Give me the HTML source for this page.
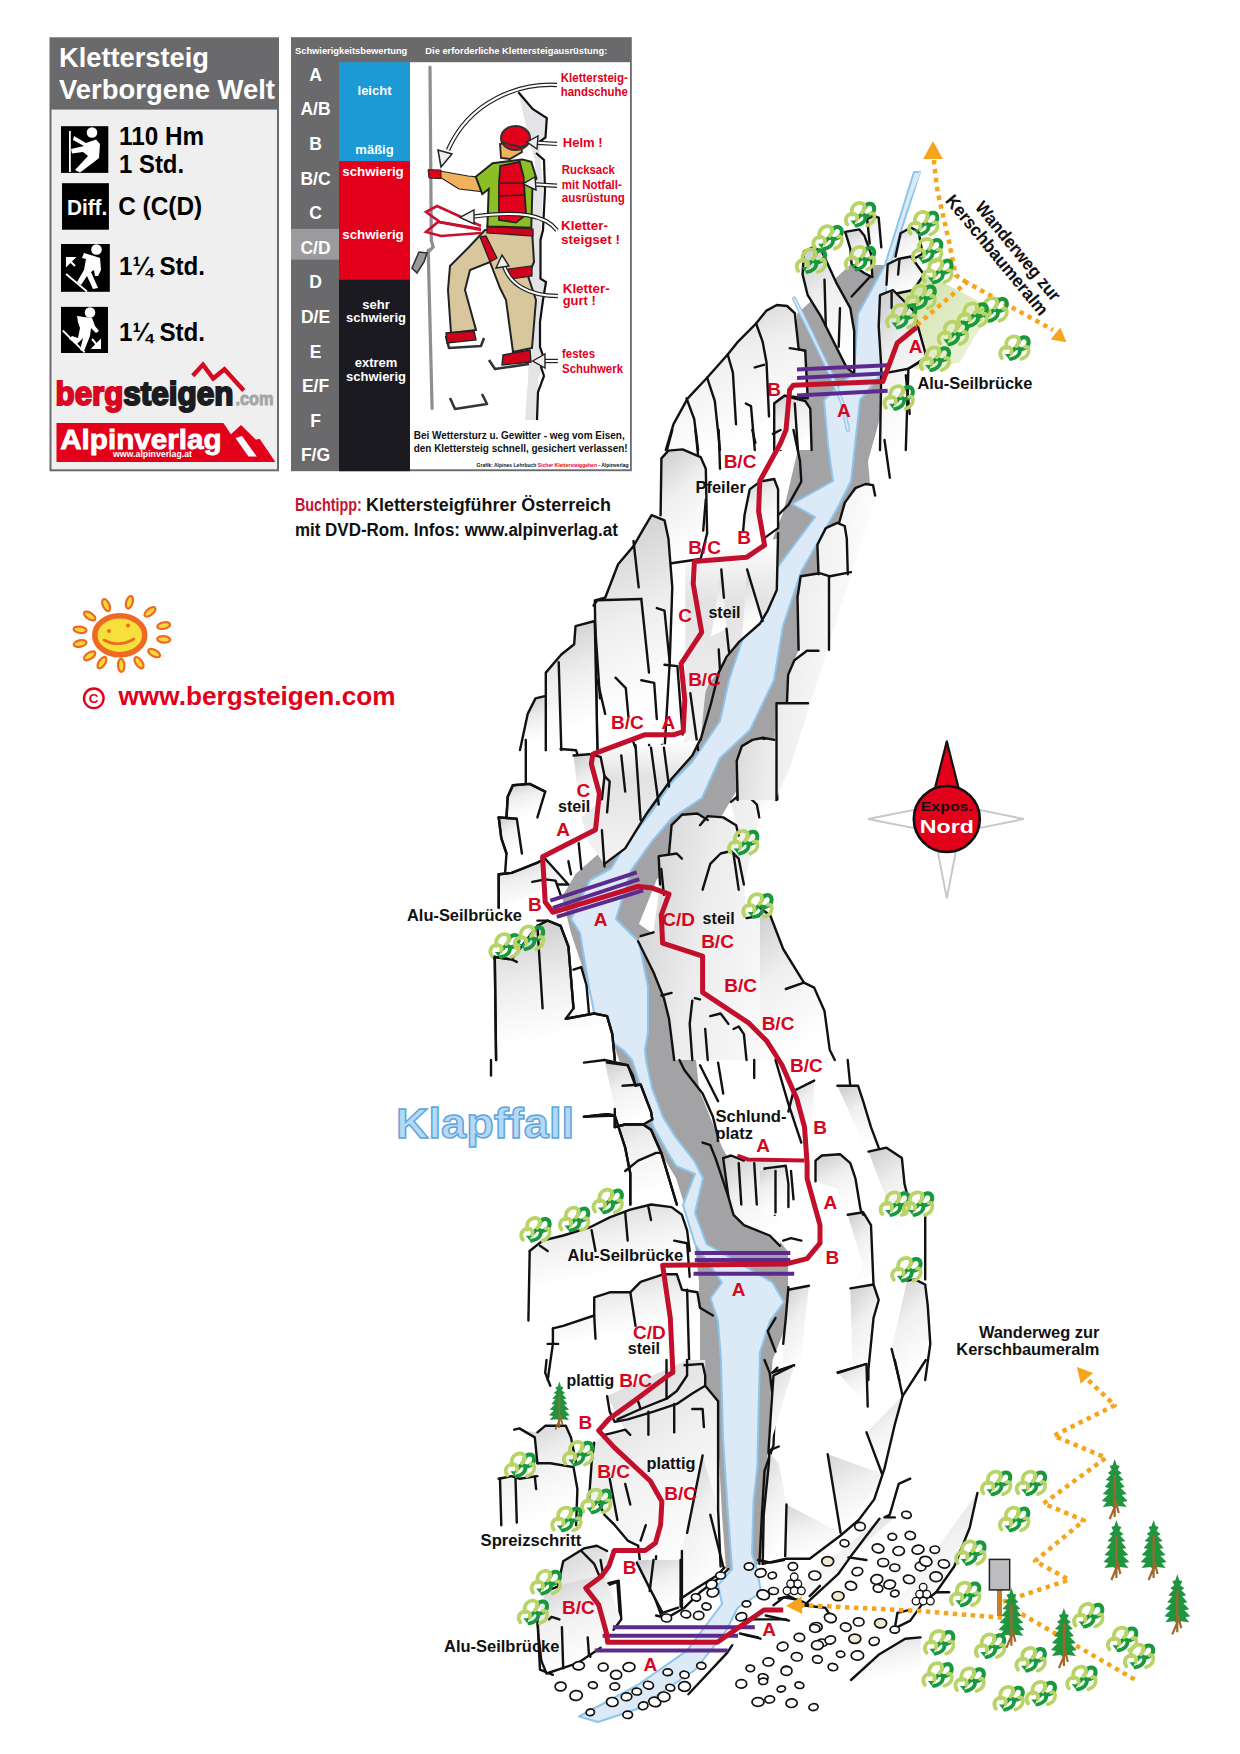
<!DOCTYPE html>
<html><head><meta charset="utf-8">
<style>
html,body{margin:0;padding:0;background:#fff;width:1240px;height:1754px;overflow:hidden}
svg{position:absolute;left:0;top:0;display:block}
text{font-family:"Liberation Sans",sans-serif;font-weight:bold}
</style></head>
<body>
<svg width="1240" height="1754" viewBox="0 0 1240 1754">
<defs>
<linearGradient id="rk" x1="0" y1="0" x2="0.35" y2="1"><stop offset="0" stop-color="#cbcbcd"/><stop offset="0.45" stop-color="#efeff0"/><stop offset="1" stop-color="#fff"/></linearGradient>
<linearGradient id="rk2" x1="0" y1="0" x2="0" y2="1"><stop offset="0" stop-color="#d0d0d2"/><stop offset="1" stop-color="#fff"/></linearGradient>
<linearGradient id="rkl" x1="0" y1="0" x2="0.35" y2="1"><stop offset="0" stop-color="#d6d6d8"/><stop offset="0.5" stop-color="#f1f1f2"/><stop offset="1" stop-color="#fff"/></linearGradient>
<linearGradient id="gfan" x1="0" y1="0" x2="1" y2="1"><stop offset="0" stop-color="#c9dd9c"/><stop offset="1" stop-color="#f1f6e4"/></linearGradient>
<g id="bush" fill="none" stroke-linecap="round">
<path d="M20,9 C21,3 28,3 29.5,7 C31,12 27,16 21,16.5" stroke="#17993c" stroke-width="4"/>
<path d="M14,18 C16,14 21,14 21,18 C21,22 17,25 12,26" stroke="#17993c" stroke-width="3.8"/>
<path d="M7.5,15 C6,6 12,2.5 17,3.5 C21.5,4.5 21,10 17.5,13" stroke="#b8d366" stroke-width="3.8"/>
<path d="M3,25 C-0.5,20 2,14.5 8,14 C12,14 14,17 12,21" stroke="#b8d366" stroke-width="3.8"/>
<path d="M22.5,26 C27,24.5 30,21 30,17 C30,14 28,13 26,14" stroke="#b8d366" stroke-width="3.6"/>
<path d="M6,21 L10,26 L11.5,21 Z" fill="#17993c" stroke="none"/></g>
<g id="pine"><path d="M0,-28 L2,-22 L5,-21 L3,-17 L7,-14 L4,-12 L9,-7 L5,-6 L10,0 L6,1 L12,7 L7,8 L13,14 L8,15 L12,20 L3,19 L0,22 L-3,19 L-12,20 L-8,15 L-13,14 L-7,8 L-12,7 L-6,1 L-10,0 L-5,-6 L-9,-7 L-4,-12 L-7,-14 L-3,-17 L-5,-21 L-2,-22Z" fill="#1f9540"/>
<path d="M0,-12 L0,30 M0,20 L-5,32 M1,14 L4,26" stroke="#a2662b" stroke-width="2.2" fill="none"/></g>
<linearGradient id="rkh" x1="0" y1="0" x2="1" y2="0.3"><stop offset="0" stop-color="#cacacc"/><stop offset="0.45" stop-color="#ececed"/><stop offset="1" stop-color="#fff"/></linearGradient>
<linearGradient id="rkv" x1="0" y1="0" x2="0" y2="1"><stop offset="0" stop-color="#fff"/><stop offset="0.3" stop-color="#e2e2e4"/><stop offset="1" stop-color="#f4f4f5"/></linearGradient>
<linearGradient id="rkd" x1="0" y1="0" x2="0.15" y2="1"><stop offset="0" stop-color="#cbcbcd"/><stop offset="0.5" stop-color="#efeff0"/><stop offset="0.9" stop-color="#fff"/></linearGradient>
<linearGradient id="rkt" x1="0" y1="0" x2="0.25" y2="1"><stop offset="0" stop-color="#cfcfd1"/><stop offset="0.35" stop-color="#f0f0f1"/><stop offset="0.65" stop-color="#fff"/></linearGradient>
</defs>
<g id="map">
<polygon points="797.0,314.0 798.0,372.0 797.0,400.0 799.0,445.0 783.0,513.0 756.0,581.0 729.0,635.0 706.5,689.0 684.0,743.0 652.0,788.0 621.0,834.0 575.5,874.0 562.0,897.0 571.0,933.0 589.0,987.0 602.6,1032.0 615.6,1050.0 629.0,1089.0 652.0,1139.0 676.0,1178.0 687.0,1213.0 695.0,1244.0 699.0,1282.0 699.0,1341.0 699.0,1375.0 710.5,1391.0 718.0,1437.5 722.0,1515.0 726.0,1569.0 745.0,1575.0 761.0,1561.5 764.8,1515.0 768.6,1437.5 772.5,1360.0 788.0,1321.0 788.0,1282.5 788.0,1251.5 772.5,1232.0 757.0,1217.0 745.0,1189.5 722.0,1147.0 699.0,1089.0 695.0,1050.0 688.0,1032.0 670.0,983.0 652.0,933.0 639.0,924.0 657.0,879.0 675.0,865.0 711.0,834.0 737.0,790.0 737.0,757.0 776.5,740.0 776.5,703.0 787.0,702.0 788.0,675.0 798.6,650.0 797.5,597.0 818.0,574.0 817.0,545.0 839.0,522.0 850.0,505.0 870.0,484.0 868.0,461.0 885.0,400.0 885.0,265.0 850.0,265.0" fill="#a3a3a5"/>
<polygon points="914.0,172.0 885.0,265.0 858.0,314.0 854.0,372.0 824.0,400.0 828.0,445.0 833.0,481.0 792.0,504.0 815.0,517.0 774.0,572.0 747.0,626.0 729.0,680.0 720.0,721.0 692.0,762.0 672.0,782.0 651.5,812.0 627.0,842.0 611.0,868.5 590.0,880.0 571.0,919.0 580.0,933.0 589.0,987.0 598.0,1032.0 623.0,1050.0 632.0,1060.0 642.0,1091.0 653.5,1127.0 668.0,1153.0 676.0,1166.0 695.0,1174.0 683.0,1205.0 695.0,1244.0 722.0,1282.5 710.5,1298.0 718.0,1321.0 721.0,1360.0 723.0,1438.0 727.0,1500.0 732.0,1569.0 718.0,1585.0 722.0,1604.0 687.0,1650.6 637.0,1685.5 579.0,1716.5 598.0,1722.0 637.0,1709.0 695.0,1670.0 726.0,1631.0 737.6,1608.0 761.0,1592.5 757.0,1569.0 752.0,1554.0 753.6,1500.0 757.4,1467.0 758.4,1419.0 760.0,1352.0 770.0,1321.0 784.0,1302.0 772.5,1282.5 706.6,1244.0 695.0,1213.0 703.0,1178.0 695.0,1162.0 675.5,1137.0 663.0,1117.0 652.0,1088.0 646.0,1060.0 645.0,1050.0 648.0,1032.0 648.0,987.0 639.0,942.0 616.0,919.0 631.0,870.5 651.5,842.0 672.0,818.0 702.0,798.0 720.0,758.0 750.0,730.0 774.0,680.0 783.0,626.0 801.0,572.0 837.5,508.0 851.0,481.0 860.0,400.0 883.0,372.0 885.0,299.0 890.0,265.0 920.0,172.0" fill="#dce9f6" stroke="#8ec5ea" stroke-width="2" stroke-linejoin="round"/>
<polygon points="887,270 903,262 992,308 960,362 930,370 887,366" fill="url(#gfan)"/>
<polyline points="794.2,298.7 812,335 831.6,376 842,402 848,430" fill="none" stroke="#9ccbee" stroke-width="4.5" stroke-linecap="round"/>
<polyline points="794.2,298.7 812,335 831.6,376 842,402 848,430" fill="none" stroke="#dce9f6" stroke-width="1.6" stroke-linecap="round"/>
<polyline points="920,172 903,215 890,262" fill="none" stroke="#dce9f6" stroke-width="1.5"/>
<polygon points="665.8,450.0 673.5,424.2 687.7,398.4 707.1,377.7 727.7,354.5 738.1,341.6 756.1,323.5 766.5,310.6 776.8,305.0 787.1,306.0 794.8,313.2 798.7,349.4 805.2,350.6 807.7,398.4 784.5,395.8 774.2,403.5 780.6,450.0" fill="url(#rk)"/>
<polyline points="665.8,450.0 673.5,424.2 687.7,398.4 707.1,377.7 727.7,354.5 738.1,341.6 756.1,323.5 766.5,310.6 776.8,305.0 787.1,306.0 794.8,313.2 798.7,349.4 805.2,350.6 807.7,398.4 784.5,395.8 774.2,403.5 780.6,450.0" fill="none" stroke="#111" stroke-width="2.4" stroke-linejoin="round" stroke-linecap="round"/>
<polyline points="686.5,398.4 694.2,419.0 698.1,450.0" fill="none" stroke="#111" stroke-width="2.4" stroke-linejoin="round" stroke-linecap="round"/>
<polyline points="707.1,377.7 714.8,401.0 720.0,450.0" fill="none" stroke="#111" stroke-width="2.4" stroke-linejoin="round" stroke-linecap="round"/>
<polyline points="727.7,354.5 732.9,372.6 736.0,424.2" fill="none" stroke="#111" stroke-width="2.4" stroke-linejoin="round" stroke-linecap="round"/>
<polyline points="756.1,323.5 762.6,341.6 766.5,362.3 769.0,416.5" fill="none" stroke="#111" stroke-width="2.4" stroke-linejoin="round" stroke-linecap="round"/>
<polyline points="754.8,367.4 763.9,364.8" fill="none" stroke="#111" stroke-width="2.4" stroke-linejoin="round" stroke-linecap="round"/>
<polyline points="745.8,403.5 751.0,406.1 754.8,450.0" fill="none" stroke="#111" stroke-width="2.4" stroke-linejoin="round" stroke-linecap="round"/>
<polyline points="789.7,348.1 805.2,350.6" fill="none" stroke="#111" stroke-width="2.4" stroke-linejoin="round" stroke-linecap="round"/>
<polygon points="854.2,373.9 846.5,367.4 836.1,346.8 820.6,315.8 807.7,295.2 802.6,274.5 803.9,251.3 812.9,247.4 821.9,251.3 836.1,282.3 850.3,308.1 854.2,331.3 854.2,373.9" fill="url(#rk)"/>
<polyline points="854.2,373.9 846.5,367.4 836.1,346.8 820.6,315.8 807.7,295.2 802.6,274.5 803.9,251.3 812.9,247.4 821.9,251.3 836.1,282.3 850.3,308.1 854.2,331.3 854.2,373.9" fill="none" stroke="#111" stroke-width="2.4" stroke-linejoin="round" stroke-linecap="round"/>
<polyline points="824.5,279.7 825.8,326.1" fill="none" stroke="#111" stroke-width="2.4" stroke-linejoin="round" stroke-linecap="round"/>
<polyline points="840.0,308.1 838.7,346.8" fill="none" stroke="#111" stroke-width="2.4" stroke-linejoin="round" stroke-linecap="round"/>
<polygon points="864.5,273.2 851.6,264.2 850.3,248.7 845.2,231.9 859.4,229.4 864.5,235.8 871.0,253.9 872.3,277.1 864.5,273.2" fill="url(#rk)"/>
<polyline points="864.5,273.2 851.6,264.2 850.3,248.7 845.2,231.9 859.4,229.4 864.5,235.8 871.0,253.9 872.3,277.1 864.5,273.2" fill="none" stroke="#111" stroke-width="2.4" stroke-linejoin="round" stroke-linecap="round"/>
<polyline points="851.6,296.5 869.7,277.1" fill="none" stroke="#111" stroke-width="2.4" stroke-linejoin="round" stroke-linecap="round"/>
<polygon points="881.3,247.4 878.7,217.7 873.5,215.9 867.1,219.0 869.7,243.5" fill="url(#rk)"/>
<polyline points="881.3,247.4 878.7,217.7 873.5,215.9 867.1,219.0 869.7,243.5" fill="none" stroke="#111" stroke-width="2.4" stroke-linejoin="round" stroke-linecap="round"/>
<polygon points="895.5,256.5 900.6,233.2 911.0,227.5 918.7,231.9 922.6,253.9 913.5,259.0" fill="url(#rk)"/>
<polyline points="895.5,256.5 900.6,233.2 911.0,227.5 918.7,231.9 922.6,253.9 913.5,259.0" fill="none" stroke="#111" stroke-width="2.4" stroke-linejoin="round" stroke-linecap="round"/>
<polygon points="886.5,284.8 887.7,264.2 898.1,259.0 911.0,256.5 923.9,274.5 913.5,290.0 887.7,295.2" fill="url(#rk)"/>
<polyline points="886.5,284.8 887.7,264.2 898.1,259.0 911.0,256.5 923.9,274.5 913.5,290.0 887.7,295.2" fill="none" stroke="#111" stroke-width="2.4" stroke-linejoin="round" stroke-linecap="round"/>
<polyline points="899.4,260.3 898.1,274.5" fill="none" stroke="#111" stroke-width="2.4" stroke-linejoin="round" stroke-linecap="round"/>
<polygon points="880.0,450.0 881.3,367.4 878.7,326.1 880.0,295.2 892.9,290.0 913.5,310.6 926.5,357.1 908.4,368.7 905.8,450.0" fill="url(#rk)"/>
<polyline points="880.0,450.0 881.3,367.4 878.7,326.1 880.0,295.2 892.9,290.0 913.5,310.6 926.5,357.1 908.4,368.7 905.8,450.0" fill="none" stroke="#111" stroke-width="2.4" stroke-linejoin="round" stroke-linecap="round"/>
<polyline points="891.6,292.6 891.6,308.1" fill="none" stroke="#111" stroke-width="2.4" stroke-linejoin="round" stroke-linecap="round"/>
<polyline points="887.7,372.6 908.4,368.7 923.9,359.7" fill="none" stroke="#111" stroke-width="2.4" stroke-linejoin="round" stroke-linecap="round"/>
<polyline points="905.8,375.2 909.7,413.9" fill="none" stroke="#111" stroke-width="2.4" stroke-linejoin="round" stroke-linecap="round"/>
<polygon points="774.2,450.0 774.2,403.5 784.5,395.8 805.2,401.0 810.3,408.7 811.6,450.0" fill="url(#rk)"/>
<polyline points="774.2,450.0 774.2,403.5 784.5,395.8 805.2,401.0 810.3,408.7 811.6,450.0" fill="none" stroke="#111" stroke-width="2.4" stroke-linejoin="round" stroke-linecap="round"/>
<polyline points="794.8,403.5 797.9,450.0" fill="none" stroke="#111" stroke-width="2.4" stroke-linejoin="round" stroke-linecap="round"/>
<polygon points="705.8,553.9 778.1,538.4 776.8,590.0 762.6,621.0 739.4,641.6 721.3,667.4 705.8,688.1 700.6,739.7 685.2,750.0 685.2,564.2" fill="url(#rkv)"/>
<polygon points="747.1,569.4 762.6,621.0 741.9,639.0" fill="url(#rkd)"/>
<polygon points="721.3,569.4 726.5,628.7 711.0,636.5" fill="url(#rkd)"/>
<polygon points="660.6,515.2 661.4,458.4 668.4,450.6 682.6,449.4 700.6,457.1 705.8,468.7 707.1,533.2 700.6,559.0 664.5,564.2" fill="url(#rk)"/>
<polyline points="660.6,515.2 661.4,458.4 668.4,450.6 682.6,449.4 700.6,457.1 705.8,468.7 707.1,533.2 700.6,559.0 664.5,564.2" fill="none" stroke="#111" stroke-width="2.4" stroke-linejoin="round" stroke-linecap="round"/>
<polygon points="743.2,530.6 744.5,515.2 749.7,489.4 760.0,481.6 774.2,479.0 778.1,489.4 778.1,528.1 763.9,538.4" fill="url(#rk)"/>
<polyline points="743.2,530.6 744.5,515.2 749.7,489.4 760.0,481.6 774.2,479.0 778.1,489.4 778.1,528.1 763.9,538.4" fill="none" stroke="#111" stroke-width="2.4" stroke-linejoin="round" stroke-linecap="round"/>
<polygon points="597.4,750.0 594.8,600.3 605.2,597.7 618.1,564.2 633.5,546.1 643.9,528.1 651.6,515.2 664.5,520.3 668.4,538.4 672.3,587.4 669.7,662.3 664.5,750.0" fill="url(#rkd)"/>
<polyline points="597.4,750.0 594.8,600.3 605.2,597.7 618.1,564.2 633.5,546.1 643.9,528.1 651.6,515.2 664.5,520.3 668.4,538.4 672.3,587.4 669.7,662.3 664.5,750.0" fill="none" stroke="#111" stroke-width="2.4" stroke-linejoin="round" stroke-linecap="round"/>
<polygon points="545.8,750.0 545.8,672.6 561.3,654.5 574.2,644.2 575.5,626.1 594.8,621.0 597.4,750.0" fill="url(#rkd)"/>
<polyline points="545.8,750.0 545.8,672.6 561.3,654.5 574.2,644.2 575.5,626.1 594.8,621.0 597.4,750.0" fill="none" stroke="#111" stroke-width="2.4" stroke-linejoin="round" stroke-linecap="round"/>
<polygon points="520.0,750.0 527.7,713.9 535.5,698.4 545.8,695.8 545.8,750.0" fill="url(#rkd)"/>
<polyline points="520.0,750.0 527.7,713.9 535.5,698.4 545.8,695.8 545.8,750.0" fill="none" stroke="#111" stroke-width="2.4" stroke-linejoin="round" stroke-linecap="round"/>
<polyline points="667.1,449.4 672.3,430.0" fill="none" stroke="#111" stroke-width="2.4" stroke-linejoin="round" stroke-linecap="round"/>
<polyline points="695.5,430.0 698.1,455.8" fill="none" stroke="#111" stroke-width="2.4" stroke-linejoin="round" stroke-linecap="round"/>
<polyline points="718.7,430.0 720.0,468.7" fill="none" stroke="#111" stroke-width="2.4" stroke-linejoin="round" stroke-linecap="round"/>
<polyline points="752.3,430.0 755.4,442.9" fill="none" stroke="#111" stroke-width="2.4" stroke-linejoin="round" stroke-linecap="round"/>
<polyline points="772.9,433.9 780.6,430.0" fill="none" stroke="#111" stroke-width="2.4" stroke-linejoin="round" stroke-linecap="round"/>
<polyline points="705.8,499.7 703.2,530.6" fill="none" stroke="#111" stroke-width="2.4" stroke-linejoin="round" stroke-linecap="round"/>
<polyline points="633.5,541.0 638.7,587.4" fill="none" stroke="#111" stroke-width="2.4" stroke-linejoin="round" stroke-linecap="round"/>
<polyline points="593.5,605.5 597.4,600.3 641.3,599.0" fill="none" stroke="#111" stroke-width="2.4" stroke-linejoin="round" stroke-linecap="round"/>
<polyline points="641.3,599.0 643.9,623.5 649.0,672.6" fill="none" stroke="#111" stroke-width="2.4" stroke-linejoin="round" stroke-linecap="round"/>
<polyline points="656.8,608.1 664.5,610.6 669.7,662.3" fill="none" stroke="#111" stroke-width="2.4" stroke-linejoin="round" stroke-linecap="round"/>
<polyline points="664.5,664.8 677.4,666.1 682.6,734.5" fill="none" stroke="#111" stroke-width="2.4" stroke-linejoin="round" stroke-linecap="round"/>
<polyline points="597.4,680.3 605.2,713.9" fill="none" stroke="#111" stroke-width="2.4" stroke-linejoin="round" stroke-linecap="round"/>
<polyline points="615.5,677.7 625.8,688.1 628.4,716.5" fill="none" stroke="#111" stroke-width="2.4" stroke-linejoin="round" stroke-linecap="round"/>
<polyline points="641.3,680.3 654.2,682.9 656.8,719.0" fill="none" stroke="#111" stroke-width="2.4" stroke-linejoin="round" stroke-linecap="round"/>
<polyline points="558.7,662.3 561.3,750.0" fill="none" stroke="#111" stroke-width="2.4" stroke-linejoin="round" stroke-linecap="round"/>
<polyline points="594.8,621.0 600.0,698.4" fill="none" stroke="#111" stroke-width="2.4" stroke-linejoin="round" stroke-linecap="round"/>
<polyline points="721.3,569.4 723.9,597.7" fill="none" stroke="#111" stroke-width="2.4" stroke-linejoin="round" stroke-linecap="round"/>
<polyline points="747.1,569.4 762.6,621.0" fill="none" stroke="#111" stroke-width="2.4" stroke-linejoin="round" stroke-linecap="round"/>
<polyline points="726.5,628.7 729.0,651.9" fill="none" stroke="#111" stroke-width="2.4" stroke-linejoin="round" stroke-linecap="round"/>
<polyline points="718.7,649.4 720.0,670.0" fill="none" stroke="#111" stroke-width="2.4" stroke-linejoin="round" stroke-linecap="round"/>
<polyline points="690.3,693.2 698.1,750.0" fill="none" stroke="#111" stroke-width="2.4" stroke-linejoin="round" stroke-linecap="round"/>
<polyline points="793.5,430.0 800.0,461.0 801.3,481.6 788.4,504.8 778.1,515.2" fill="none" stroke="#111" stroke-width="2.4" stroke-linejoin="round" stroke-linecap="round"/>
<polyline points="778.1,533.2 776.8,590.0 767.7,610.6 760.0,623.5 739.4,641.6 726.5,657.1 718.7,672.6 711.0,703.5 700.6,739.7" fill="none" stroke="#111" stroke-width="2.4" stroke-linejoin="round" stroke-linecap="round"/>
<polyline points="633.5,742.3 636.1,750.0" fill="none" stroke="#111" stroke-width="2.4" stroke-linejoin="round" stroke-linecap="round"/>
<polyline points="649.0,744.8 650.3,750.0" fill="none" stroke="#111" stroke-width="2.4" stroke-linejoin="round" stroke-linecap="round"/>
<polyline points="661.9,744.8 663.2,750.0" fill="none" stroke="#111" stroke-width="2.4" stroke-linejoin="round" stroke-linecap="round"/>
<polygon points="573.5,755.5 700.0,740.0 692.3,755.5 671.6,778.7 645.8,814.8 625.2,848.4 604.5,863.9 589.0,843.2 581.3,817.4" fill="url(#rkv)"/>
<polygon points="498.7,907.7 498.7,874.2 511.6,872.9 537.4,862.6 545.2,858.7 568.4,884.5 558.1,884.5" fill="url(#rk)"/>
<polyline points="498.7,907.7 498.7,874.2 511.6,872.9 537.4,862.6 545.2,858.7 568.4,884.5 558.1,884.5" fill="none" stroke="#111" stroke-width="2.4" stroke-linejoin="round" stroke-linecap="round"/>
<polygon points="506.5,853.5 501.3,838.1 498.7,817.4 516.8,818.7 521.9,853.5" fill="url(#rk)"/>
<polyline points="506.5,853.5 501.3,838.1 498.7,817.4 516.8,818.7 521.9,853.5" fill="none" stroke="#111" stroke-width="2.4" stroke-linejoin="round" stroke-linecap="round"/>
<polygon points="506.5,817.4 507.7,796.8 512.9,785.2 529.7,783.9 545.2,791.6 537.4,817.4" fill="url(#rk)"/>
<polyline points="506.5,817.4 507.7,796.8 512.9,785.2 529.7,783.9 545.2,791.6 537.4,817.4" fill="none" stroke="#111" stroke-width="2.4" stroke-linejoin="round" stroke-linecap="round"/>
<polygon points="573.5,755.5 589.0,754.2 600.6,756.8 604.5,776.1 601.9,799.4 581.3,817.4" fill="url(#rk)"/>
<polygon points="496.1,1060.0 494.8,959.4 493.5,956.8 511.6,959.4 537.4,925.8 547.7,920.6 560.6,925.8 568.4,946.5 573.5,1008.4 565.8,1018.7 594.2,1013.5 607.1,1016.1 612.3,1034.2 614.8,1060.0" fill="url(#rkd)"/>
<polyline points="496.1,1060.0 494.8,959.4 493.5,956.8 511.6,959.4 537.4,925.8 547.7,920.6 560.6,925.8 568.4,946.5 573.5,1008.4 565.8,1018.7 594.2,1013.5 607.1,1016.1 612.3,1034.2 614.8,1060.0" fill="none" stroke="#111" stroke-width="2.4" stroke-linejoin="round" stroke-linecap="round"/>
<polygon points="674.2,1060.0 669.0,1018.7 663.9,998.1 653.5,972.3 645.8,956.8 638.1,941.3 640.6,936.1 653.5,932.3 660.0,884.5 658.7,856.1 669.0,853.5 671.6,825.2 681.9,814.8 697.4,813.5 707.7,817.4 723.2,817.4 736.1,825.2 731.0,801.9 737.4,799.4 738.7,763.2 749.0,745.2 764.5,740.0 775.4,740.0 777.4,799.4 759.4,817.4 743.9,884.5 746.5,918.1 761.9,915.5 772.3,925.8 780.0,946.5 814.1,987.7 824.4,1011.0 834.7,1060.0" fill="url(#rkh)"/>
<polyline points="525.8,740.0 525.8,783.9" fill="none" stroke="#111" stroke-width="2.4" stroke-linejoin="round" stroke-linecap="round"/>
<polyline points="512.9,785.2 529.7,783.9 545.2,791.6" fill="none" stroke="#111" stroke-width="2.4" stroke-linejoin="round" stroke-linecap="round"/>
<polyline points="512.9,785.2 507.7,796.8 506.5,817.4" fill="none" stroke="#111" stroke-width="2.4" stroke-linejoin="round" stroke-linecap="round"/>
<polyline points="498.7,817.4 516.8,818.7" fill="none" stroke="#111" stroke-width="2.4" stroke-linejoin="round" stroke-linecap="round"/>
<polyline points="498.7,817.4 501.3,838.1 506.5,853.5 505.2,871.6" fill="none" stroke="#111" stroke-width="2.4" stroke-linejoin="round" stroke-linecap="round"/>
<polyline points="500.0,874.2 511.6,872.9 521.9,869.0 537.4,862.6 545.2,858.7" fill="none" stroke="#111" stroke-width="2.4" stroke-linejoin="round" stroke-linecap="round"/>
<polyline points="498.7,874.2 498.7,907.7" fill="none" stroke="#111" stroke-width="2.4" stroke-linejoin="round" stroke-linecap="round"/>
<polyline points="532.3,881.9 545.2,879.4 555.5,880.6 560.6,894.8" fill="none" stroke="#111" stroke-width="2.4" stroke-linejoin="round" stroke-linecap="round"/>
<polyline points="560.6,749.0 576.1,750.3 577.4,754.2" fill="none" stroke="#111" stroke-width="2.4" stroke-linejoin="round" stroke-linecap="round"/>
<polyline points="573.5,755.5 589.0,754.2 600.6,756.8 604.5,776.1 601.9,799.4" fill="none" stroke="#111" stroke-width="2.4" stroke-linejoin="round" stroke-linecap="round"/>
<polyline points="604.5,776.1 609.7,781.3 607.1,812.3" fill="none" stroke="#111" stroke-width="2.4" stroke-linejoin="round" stroke-linecap="round"/>
<polyline points="621.3,755.5 625.2,791.6" fill="none" stroke="#111" stroke-width="2.4" stroke-linejoin="round" stroke-linecap="round"/>
<polyline points="635.5,745.2 640.6,820.0" fill="none" stroke="#111" stroke-width="2.4" stroke-linejoin="round" stroke-linecap="round"/>
<polyline points="651.0,747.7 658.7,804.5" fill="none" stroke="#111" stroke-width="2.4" stroke-linejoin="round" stroke-linecap="round"/>
<polyline points="663.9,747.7 669.0,786.5" fill="none" stroke="#111" stroke-width="2.4" stroke-linejoin="round" stroke-linecap="round"/>
<polyline points="578.7,843.2 581.3,869.0" fill="none" stroke="#111" stroke-width="2.4" stroke-linejoin="round" stroke-linecap="round"/>
<polyline points="568.4,861.3 571.0,874.2" fill="none" stroke="#111" stroke-width="2.4" stroke-linejoin="round" stroke-linecap="round"/>
<polyline points="601.9,830.3 604.5,866.5" fill="none" stroke="#111" stroke-width="2.4" stroke-linejoin="round" stroke-linecap="round"/>
<polyline points="700.0,740.0 692.3,755.5 671.6,778.7 658.7,796.8 645.8,814.8 625.2,848.4 604.5,863.9" fill="none" stroke="#111" stroke-width="2.4" stroke-linejoin="round" stroke-linecap="round"/>
<polyline points="494.8,959.4 496.1,1060.0" fill="none" stroke="#111" stroke-width="2.4" stroke-linejoin="round" stroke-linecap="round"/>
<polyline points="493.5,956.8 511.6,959.4 516.8,961.9" fill="none" stroke="#111" stroke-width="2.4" stroke-linejoin="round" stroke-linecap="round"/>
<polyline points="537.4,920.6 547.7,920.6 560.6,925.8 568.4,946.5 573.5,1008.4" fill="none" stroke="#111" stroke-width="2.4" stroke-linejoin="round" stroke-linecap="round"/>
<polyline points="537.4,925.8 542.6,1008.4" fill="none" stroke="#111" stroke-width="2.4" stroke-linejoin="round" stroke-linecap="round"/>
<polyline points="573.5,969.7 581.3,967.1 586.5,985.2 589.0,1013.5" fill="none" stroke="#111" stroke-width="2.4" stroke-linejoin="round" stroke-linecap="round"/>
<polyline points="565.8,1018.7 594.2,1013.5 607.1,1016.1 612.3,1034.2 614.8,1060.0" fill="none" stroke="#111" stroke-width="2.4" stroke-linejoin="round" stroke-linecap="round"/>
<polyline points="737.4,799.4 738.7,763.2 749.0,745.2 764.5,740.0" fill="none" stroke="#111" stroke-width="2.4" stroke-linejoin="round" stroke-linecap="round"/>
<polyline points="774.8,740.0 777.4,799.4" fill="none" stroke="#111" stroke-width="2.4" stroke-linejoin="round" stroke-linecap="round"/>
<polyline points="731.0,801.9 738.7,795.5 749.0,796.8 756.8,804.5 759.4,817.4" fill="none" stroke="#111" stroke-width="2.4" stroke-linejoin="round" stroke-linecap="round"/>
<polyline points="660.0,884.5 658.7,856.1 676.8,853.5 681.9,858.7" fill="none" stroke="#111" stroke-width="2.4" stroke-linejoin="round" stroke-linecap="round"/>
<polyline points="669.0,853.5 671.6,825.2 681.9,814.8 697.4,813.5 707.7,820.0" fill="none" stroke="#111" stroke-width="2.4" stroke-linejoin="round" stroke-linecap="round"/>
<polyline points="700.0,825.2 707.7,816.1 723.2,817.4 736.1,825.2 738.7,835.5" fill="none" stroke="#111" stroke-width="2.4" stroke-linejoin="round" stroke-linecap="round"/>
<polyline points="702.6,889.7 710.3,863.9 720.6,853.5 731.0,851.0 738.7,858.7 743.9,884.5" fill="none" stroke="#111" stroke-width="2.4" stroke-linejoin="round" stroke-linecap="round"/>
<polyline points="733.5,853.5 738.7,889.7" fill="none" stroke="#111" stroke-width="2.4" stroke-linejoin="round" stroke-linecap="round"/>
<polyline points="746.5,918.1 761.9,915.5 772.3,925.8 780.0,946.5" fill="none" stroke="#111" stroke-width="2.4" stroke-linejoin="round" stroke-linecap="round"/>
<polyline points="661.3,869.0 663.9,894.8" fill="none" stroke="#111" stroke-width="2.4" stroke-linejoin="round" stroke-linecap="round"/>
<polyline points="640.6,936.1 653.5,932.3" fill="none" stroke="#111" stroke-width="2.4" stroke-linejoin="round" stroke-linecap="round"/>
<polyline points="638.1,941.3 645.8,956.8 653.5,972.3 663.9,998.1 669.0,1018.7 674.2,1060.0" fill="none" stroke="#111" stroke-width="2.4" stroke-linejoin="round" stroke-linecap="round"/>
<polyline points="661.3,995.5 671.6,992.9" fill="none" stroke="#111" stroke-width="2.4" stroke-linejoin="round" stroke-linecap="round"/>
<polyline points="694.8,998.1 700.0,999.4" fill="none" stroke="#111" stroke-width="2.4" stroke-linejoin="round" stroke-linecap="round"/>
<polyline points="692.3,1000.6 689.7,1023.9 692.3,1060.0" fill="none" stroke="#111" stroke-width="2.4" stroke-linejoin="round" stroke-linecap="round"/>
<polyline points="710.3,1016.1 720.6,1013.5 728.4,1023.9" fill="none" stroke="#111" stroke-width="2.4" stroke-linejoin="round" stroke-linecap="round"/>
<polyline points="733.5,1029.0 738.7,1026.5 743.9,1034.2 746.5,1060.0" fill="none" stroke="#111" stroke-width="2.4" stroke-linejoin="round" stroke-linecap="round"/>
<polyline points="705.2,1029.0 707.7,1060.0" fill="none" stroke="#111" stroke-width="2.4" stroke-linejoin="round" stroke-linecap="round"/>
<polygon points="760.0,907.7 770.3,915.5 783.2,949.0 803.9,982.6 814.2,987.7 824.5,1011.0 829.7,1049.7 834.8,1060.0 760.0,1060.0" fill="url(#rk)"/>
<polyline points="760.0,907.7 770.3,915.5 783.2,949.0 803.9,982.6 814.2,987.7 824.5,1011.0 829.7,1049.7 834.8,1060.0" fill="none" stroke="#111" stroke-width="2.4" stroke-linejoin="round" stroke-linecap="round"/>
<polyline points="785.8,989.0 803.9,982.6" fill="none" stroke="#111" stroke-width="2.4" stroke-linejoin="round" stroke-linecap="round"/>
<polyline points="775.5,740.0 775.5,799.4" fill="none" stroke="#111" stroke-width="2.4" stroke-linejoin="round" stroke-linecap="round"/>
<polygon points="760.0,740.0 775.5,740.0 775.5,799.4 760.0,817.4" fill="url(#rk)"/>
<polygon points="604.5,1060.0 627.7,1065.2 635.5,1085.8 640.6,1084.5 651.0,1111.6 652.3,1119.4 643.2,1124.5 625.2,1124.5 614.8,1127.1 614.8,1109.0" fill="url(#rk)"/>
<polyline points="604.5,1060.0 627.7,1065.2 635.5,1085.8 640.6,1084.5 651.0,1111.6 652.3,1119.4 643.2,1124.5 625.2,1124.5 614.8,1127.1 614.8,1109.0" fill="none" stroke="#111" stroke-width="2.4" stroke-linejoin="round" stroke-linecap="round"/>
<polygon points="630.3,1204.5 630.3,1173.5 625.2,1147.7 614.8,1115.5 607.1,1114.2 583.9,1116.8 614.8,1115.5 614.8,1127.1 625.2,1124.5 643.2,1124.5 651.0,1129.7 661.3,1152.9 676.8,1204.5" fill="url(#rk)"/>
<polyline points="630.3,1204.5 630.3,1173.5 625.2,1147.7 614.8,1115.5 607.1,1114.2 583.9,1116.8 614.8,1115.5 614.8,1127.1 625.2,1124.5 643.2,1124.5 651.0,1129.7 661.3,1152.9 676.8,1204.5" fill="none" stroke="#111" stroke-width="2.4" stroke-linejoin="round" stroke-linecap="round"/>
<polygon points="723.2,1158.1 731.0,1155.5 780.0,1163.2 780.0,1245.8 769.7,1235.5 743.9,1225.2 733.5,1214.8 728.4,1196.8 723.2,1158.1" fill="url(#rk)"/>
<polygon points="529.7,1251.0 542.6,1240.6 563.2,1235.5 589.0,1227.7 609.7,1217.4 630.3,1209.7 651.0,1204.5 671.6,1207.1 681.9,1214.8 687.1,1230.3 689.7,1251.0 692.3,1276.8 663.9,1274.2 640.6,1281.9 630.3,1292.3 609.7,1292.3 594.2,1297.4 594.2,1315.5 563.2,1325.8 552.9,1328.4 528.4,1320.6" fill="url(#rkt)"/>
<polygon points="552.9,1328.4 563.2,1325.8 594.2,1315.5 594.2,1297.4 609.7,1292.3 630.3,1292.3 640.6,1281.9 663.9,1274.2 676.8,1274.2 681.9,1289.7 697.4,1292.3 700.0,1307.7 700.0,1380.0 547.7,1380.0 552.9,1343.9" fill="url(#rkt)"/>
<polyline points="491.0,1060.0 491.0,1075.5" fill="none" stroke="#111" stroke-width="2.4" stroke-linejoin="round" stroke-linecap="round"/>
<polyline points="583.9,1062.6 604.5,1060.0" fill="none" stroke="#111" stroke-width="2.4" stroke-linejoin="round" stroke-linecap="round"/>
<polyline points="607.1,1062.6 627.7,1065.2 632.9,1075.5 635.5,1085.8" fill="none" stroke="#111" stroke-width="2.4" stroke-linejoin="round" stroke-linecap="round"/>
<polyline points="622.6,1085.8 640.6,1084.5 651.0,1111.6 652.3,1119.4" fill="none" stroke="#111" stroke-width="2.4" stroke-linejoin="round" stroke-linecap="round"/>
<polyline points="583.9,1116.8 607.1,1114.2 614.8,1115.5 625.2,1147.7 630.3,1173.5 630.3,1204.5" fill="none" stroke="#111" stroke-width="2.4" stroke-linejoin="round" stroke-linecap="round"/>
<polyline points="614.8,1127.1 625.2,1124.5 643.2,1124.5 651.0,1129.7 661.3,1152.9 676.8,1204.5" fill="none" stroke="#111" stroke-width="2.4" stroke-linejoin="round" stroke-linecap="round"/>
<polyline points="625.2,1171.0 638.1,1160.6 656.1,1152.9 661.3,1152.9" fill="none" stroke="#111" stroke-width="2.4" stroke-linejoin="round" stroke-linecap="round"/>
<polyline points="679.4,1060.0 684.5,1070.3 702.6,1093.5 712.9,1116.8 718.1,1137.4" fill="none" stroke="#111" stroke-width="2.4" stroke-linejoin="round" stroke-linecap="round"/>
<polyline points="700.0,1065.2 718.1,1101.3" fill="none" stroke="#111" stroke-width="2.4" stroke-linejoin="round" stroke-linecap="round"/>
<polyline points="718.1,1062.6 723.2,1093.5" fill="none" stroke="#111" stroke-width="2.4" stroke-linejoin="round" stroke-linecap="round"/>
<polyline points="754.2,1060.0 754.2,1078.1" fill="none" stroke="#111" stroke-width="2.4" stroke-linejoin="round" stroke-linecap="round"/>
<polyline points="723.2,1158.1 731.0,1155.5 743.9,1160.6" fill="none" stroke="#111" stroke-width="2.4" stroke-linejoin="round" stroke-linecap="round"/>
<polyline points="723.2,1158.1 728.4,1196.8" fill="none" stroke="#111" stroke-width="2.4" stroke-linejoin="round" stroke-linecap="round"/>
<polyline points="738.7,1163.2 741.3,1204.5" fill="none" stroke="#111" stroke-width="2.4" stroke-linejoin="round" stroke-linecap="round"/>
<polyline points="754.2,1163.2 756.8,1204.5" fill="none" stroke="#111" stroke-width="2.4" stroke-linejoin="round" stroke-linecap="round"/>
<polyline points="764.5,1168.4 774.8,1214.8" fill="none" stroke="#111" stroke-width="2.4" stroke-linejoin="round" stroke-linecap="round"/>
<polyline points="702.6,1142.6 710.3,1145.2 715.5,1158.1 728.4,1196.8 733.5,1214.8 743.9,1225.2 769.7,1235.5 780.0,1245.8" fill="none" stroke="#111" stroke-width="2.4" stroke-linejoin="round" stroke-linecap="round"/>
<polyline points="529.7,1251.0 542.6,1240.6 563.2,1235.5 589.0,1227.7 609.7,1217.4 630.3,1209.7 651.0,1204.5 671.6,1207.1 681.9,1214.8 687.1,1230.3 689.7,1251.0" fill="none" stroke="#111" stroke-width="2.4" stroke-linejoin="round" stroke-linecap="round"/>
<polyline points="529.7,1251.0 528.4,1320.6" fill="none" stroke="#111" stroke-width="2.4" stroke-linejoin="round" stroke-linecap="round"/>
<polyline points="540.0,1245.8 547.7,1251.0" fill="none" stroke="#111" stroke-width="2.4" stroke-linejoin="round" stroke-linecap="round"/>
<polyline points="591.6,1230.3 595.5,1251.0" fill="none" stroke="#111" stroke-width="2.4" stroke-linejoin="round" stroke-linecap="round"/>
<polyline points="625.2,1212.3 627.7,1240.6" fill="none" stroke="#111" stroke-width="2.4" stroke-linejoin="round" stroke-linecap="round"/>
<polyline points="648.4,1207.1 651.0,1220.0" fill="none" stroke="#111" stroke-width="2.4" stroke-linejoin="round" stroke-linecap="round"/>
<polyline points="674.2,1240.6 687.1,1243.2 689.7,1276.8" fill="none" stroke="#111" stroke-width="2.4" stroke-linejoin="round" stroke-linecap="round"/>
<polyline points="552.9,1328.4 563.2,1325.8 594.2,1315.5 594.2,1297.4 609.7,1292.3 630.3,1292.3 640.6,1281.9 663.9,1274.2 676.8,1274.2 681.9,1289.7 697.4,1292.3 700.0,1307.7" fill="none" stroke="#111" stroke-width="2.4" stroke-linejoin="round" stroke-linecap="round"/>
<polyline points="594.2,1315.5 595.5,1338.7" fill="none" stroke="#111" stroke-width="2.4" stroke-linejoin="round" stroke-linecap="round"/>
<polyline points="630.3,1292.3 635.5,1325.8" fill="none" stroke="#111" stroke-width="2.4" stroke-linejoin="round" stroke-linecap="round"/>
<polyline points="552.9,1328.4 552.9,1343.9 547.7,1380.0" fill="none" stroke="#111" stroke-width="2.4" stroke-linejoin="round" stroke-linecap="round"/>
<polyline points="547.7,1343.9 558.1,1343.9" fill="none" stroke="#111" stroke-width="2.4" stroke-linejoin="round" stroke-linecap="round"/>
<polyline points="687.1,1289.7 689.7,1380.0" fill="none" stroke="#111" stroke-width="2.4" stroke-linejoin="round" stroke-linecap="round"/>
<polyline points="700.0,1307.7 712.9,1315.5" fill="none" stroke="#111" stroke-width="2.4" stroke-linejoin="round" stroke-linecap="round"/>
<polygon points="837.4,1085.8 858.1,1085.8 863.2,1101.3 878.7,1147.7 868.4,1151.6 860.6,1137.4" fill="url(#rk)"/>
<polygon points="868.4,1151.6 886.5,1147.7 901.9,1158.1 904.5,1183.9 907.1,1204.5 914.8,1240.6 904.5,1245.8" fill="url(#rk)"/>
<polygon points="815.5,1181.3 815.5,1160.6 821.9,1155.5 840.0,1154.2 850.3,1163.2 855.5,1178.7 860.6,1209.7 847.7,1214.8 837.4,1189.0" fill="url(#rk)"/>
<polygon points="847.7,1214.8 863.2,1212.3 871.0,1225.2 873.5,1284.5 850.3,1288.4 863.2,1266.5" fill="url(#rk)"/>
<polygon points="850.3,1288.4 873.5,1284.5 878.7,1300.0 873.5,1318.1 868.4,1380.0 852.9,1380.0" fill="url(#rk)"/>
<polygon points="907.1,1280.6 914.8,1279.4 925.2,1284.5 927.7,1305.2 930.3,1343.9 925.2,1380.0 899.4,1380.0 891.6,1349.0" fill="url(#rk)"/>
<polygon points="788.4,1111.6 793.5,1091.0 814.2,1080.6 811.6,1137.4" fill="url(#rk)"/>
<polygon points="760.0,1171.0 785.8,1165.8 788.4,1207.1 775.5,1214.8 760.0,1214.8" fill="url(#rk)"/>
<polygon points="788.4,1289.7 809.0,1285.8 798.7,1380.0 783.2,1380.0 783.2,1343.9" fill="url(#rk)"/>
<polyline points="847.7,1060.0 850.3,1085.8" fill="none" stroke="#111" stroke-width="2.4" stroke-linejoin="round" stroke-linecap="round"/>
<polyline points="837.4,1085.8 858.1,1085.8 863.2,1101.3 871.0,1127.1 878.7,1147.7" fill="none" stroke="#111" stroke-width="2.4" stroke-linejoin="round" stroke-linecap="round"/>
<polyline points="868.4,1151.6 886.5,1147.7 901.9,1158.1 904.5,1183.9 907.1,1194.2" fill="none" stroke="#111" stroke-width="2.4" stroke-linejoin="round" stroke-linecap="round"/>
<polyline points="925.2,1214.8 925.2,1279.4" fill="none" stroke="#111" stroke-width="2.4" stroke-linejoin="round" stroke-linecap="round"/>
<polyline points="788.4,1111.6 793.5,1091.0 814.2,1080.6" fill="none" stroke="#111" stroke-width="2.4" stroke-linejoin="round" stroke-linecap="round"/>
<polyline points="815.5,1181.3 815.5,1160.6 821.9,1155.5 840.0,1154.2 850.3,1163.2 855.5,1178.7 860.6,1209.7 863.2,1214.8" fill="none" stroke="#111" stroke-width="2.4" stroke-linejoin="round" stroke-linecap="round"/>
<polyline points="847.7,1214.8 863.2,1212.3 871.0,1225.2 873.5,1284.5" fill="none" stroke="#111" stroke-width="2.4" stroke-linejoin="round" stroke-linecap="round"/>
<polyline points="850.3,1288.4 873.5,1284.5 878.7,1300.0 873.5,1318.1 868.4,1369.7 868.4,1380.0" fill="none" stroke="#111" stroke-width="2.4" stroke-linejoin="round" stroke-linecap="round"/>
<polyline points="907.1,1280.6 914.8,1279.4 925.2,1284.5 927.7,1305.2 930.3,1343.9 925.2,1380.0" fill="none" stroke="#111" stroke-width="2.4" stroke-linejoin="round" stroke-linecap="round"/>
<polyline points="891.6,1349.0 899.4,1380.0" fill="none" stroke="#111" stroke-width="2.4" stroke-linejoin="round" stroke-linecap="round"/>
<polyline points="837.4,1372.3 865.8,1364.5" fill="none" stroke="#111" stroke-width="2.4" stroke-linejoin="round" stroke-linecap="round"/>
<polyline points="788.4,1289.7 809.0,1285.8" fill="none" stroke="#111" stroke-width="2.4" stroke-linejoin="round" stroke-linecap="round"/>
<polyline points="788.4,1287.1 785.8,1318.1 783.2,1343.9" fill="none" stroke="#111" stroke-width="2.4" stroke-linejoin="round" stroke-linecap="round"/>
<polyline points="775.5,1318.1 767.7,1331.0 775.5,1351.6" fill="none" stroke="#111" stroke-width="2.4" stroke-linejoin="round" stroke-linecap="round"/>
<polyline points="765.2,1168.4 785.8,1165.8 788.4,1183.9 788.4,1207.1" fill="none" stroke="#111" stroke-width="2.4" stroke-linejoin="round" stroke-linecap="round"/>
<polyline points="775.5,1171.0 775.5,1212.3" fill="none" stroke="#111" stroke-width="2.4" stroke-linejoin="round" stroke-linecap="round"/>
<polyline points="791.0,1171.0 793.5,1199.4" fill="none" stroke="#111" stroke-width="2.4" stroke-linejoin="round" stroke-linecap="round"/>
<polyline points="783.2,1240.6 791.0,1238.1 801.3,1240.6" fill="none" stroke="#111" stroke-width="2.4" stroke-linejoin="round" stroke-linecap="round"/>
<polyline points="772.9,1372.3 793.5,1365.8" fill="none" stroke="#111" stroke-width="2.4" stroke-linejoin="round" stroke-linecap="round"/>
<polyline points="775.5,1060.0 788.4,1103.9 801.3,1142.6" fill="none" stroke="#111" stroke-width="2.4" stroke-linejoin="round" stroke-linecap="round"/>
<polygon points="607.1,1396.1 687.1,1360.0 705.2,1360.0 705.2,1385.8 718.1,1401.3 718.1,1509.7 720.6,1566.5 681.9,1607.7 656.1,1615.5 640.6,1566.5 638.1,1545.8 614.8,1525.2 599.4,1504.5 589.0,1499.4 591.6,1445.2 604.5,1434.8 625.2,1429.7" fill="url(#rkl)"/>
<polygon points="500.0,1525.2 498.7,1478.7 511.6,1476.1 519.4,1478.7 534.8,1476.1 537.4,1463.2 534.8,1437.4 519.4,1428.4 514.2,1429.7 537.4,1432.3 545.2,1425.8 565.8,1425.8 571.0,1437.4 577.4,1489.0 576.1,1525.2" fill="url(#rk)"/>
<polygon points="537.4,1669.7 537.4,1618.1 545.2,1592.3 558.1,1584.5 563.2,1561.3 583.9,1548.4 596.8,1545.8 607.1,1551.0 609.7,1584.5 620.0,1618.1 604.5,1680.0 545.2,1680.0" fill="url(#rk)"/>
<polygon points="681.9,1551.0 702.6,1455.5 718.1,1509.7 720.6,1566.5 681.9,1607.7" fill="url(#rk)"/>
<polyline points="546.5,1360.0 545.2,1372.9 550.3,1385.8" fill="none" stroke="#111" stroke-width="2.4" stroke-linejoin="round" stroke-linecap="round"/>
<polyline points="514.2,1429.7 519.4,1428.4 534.8,1437.4 537.4,1463.2" fill="none" stroke="#111" stroke-width="2.4" stroke-linejoin="round" stroke-linecap="round"/>
<polyline points="537.4,1432.3 545.2,1425.8 565.8,1425.8 571.0,1437.4 576.1,1463.2" fill="none" stroke="#111" stroke-width="2.4" stroke-linejoin="round" stroke-linecap="round"/>
<polyline points="498.7,1478.7 511.6,1476.1 519.4,1478.7 537.4,1476.1" fill="none" stroke="#111" stroke-width="2.4" stroke-linejoin="round" stroke-linecap="round"/>
<polyline points="537.4,1463.2 550.3,1463.2 573.5,1467.1 577.4,1489.0 576.1,1525.2" fill="none" stroke="#111" stroke-width="2.4" stroke-linejoin="round" stroke-linecap="round"/>
<polyline points="515.5,1478.7 516.8,1522.6" fill="none" stroke="#111" stroke-width="2.4" stroke-linejoin="round" stroke-linecap="round"/>
<polyline points="500.0,1478.7 501.3,1525.2" fill="none" stroke="#111" stroke-width="2.4" stroke-linejoin="round" stroke-linecap="round"/>
<polyline points="534.8,1476.1 536.1,1489.0" fill="none" stroke="#111" stroke-width="2.4" stroke-linejoin="round" stroke-linecap="round"/>
<polyline points="607.1,1396.1 609.7,1411.6 614.8,1421.9 627.7,1419.4 653.5,1411.6 676.8,1403.9 692.3,1393.5 705.2,1385.8" fill="none" stroke="#111" stroke-width="2.4" stroke-linejoin="round" stroke-linecap="round"/>
<polyline points="617.4,1419.4 640.6,1409.0 666.5,1398.7 676.8,1391.0 687.1,1375.5 687.1,1360.0" fill="none" stroke="#111" stroke-width="2.4" stroke-linejoin="round" stroke-linecap="round"/>
<polyline points="684.5,1365.2 702.6,1363.9 705.2,1375.5 705.2,1385.8 718.1,1401.3 718.1,1509.7 720.6,1566.5" fill="none" stroke="#111" stroke-width="2.4" stroke-linejoin="round" stroke-linecap="round"/>
<polyline points="638.1,1401.3 640.6,1409.0" fill="none" stroke="#111" stroke-width="2.4" stroke-linejoin="round" stroke-linecap="round"/>
<polyline points="666.5,1360.0 666.5,1398.7" fill="none" stroke="#111" stroke-width="2.4" stroke-linejoin="round" stroke-linecap="round"/>
<polyline points="674.2,1403.9 674.2,1432.3" fill="none" stroke="#111" stroke-width="2.4" stroke-linejoin="round" stroke-linecap="round"/>
<polyline points="692.3,1409.0 702.6,1409.0 703.9,1427.1" fill="none" stroke="#111" stroke-width="2.4" stroke-linejoin="round" stroke-linecap="round"/>
<polyline points="648.4,1411.6 648.4,1434.8" fill="none" stroke="#111" stroke-width="2.4" stroke-linejoin="round" stroke-linecap="round"/>
<polyline points="604.5,1434.8 614.8,1432.3 625.2,1429.7 630.3,1434.8" fill="none" stroke="#111" stroke-width="2.4" stroke-linejoin="round" stroke-linecap="round"/>
<polyline points="594.2,1442.6 591.6,1463.2 589.0,1499.4" fill="none" stroke="#111" stroke-width="2.4" stroke-linejoin="round" stroke-linecap="round"/>
<polyline points="599.4,1504.5 604.5,1514.8 614.8,1525.2 627.7,1540.6 638.1,1545.8" fill="none" stroke="#111" stroke-width="2.4" stroke-linejoin="round" stroke-linecap="round"/>
<polyline points="609.7,1478.7 617.4,1520.0" fill="none" stroke="#111" stroke-width="2.4" stroke-linejoin="round" stroke-linecap="round"/>
<polyline points="625.2,1483.9 630.3,1504.5" fill="none" stroke="#111" stroke-width="2.4" stroke-linejoin="round" stroke-linecap="round"/>
<polyline points="640.6,1540.6 645.8,1525.2" fill="none" stroke="#111" stroke-width="2.4" stroke-linejoin="round" stroke-linecap="round"/>
<polyline points="702.6,1455.5 687.1,1532.9" fill="none" stroke="#111" stroke-width="2.4" stroke-linejoin="round" stroke-linecap="round"/>
<polyline points="710.3,1514.8 723.2,1566.5" fill="none" stroke="#111" stroke-width="2.4" stroke-linejoin="round" stroke-linecap="round"/>
<polyline points="638.1,1545.8 640.6,1566.5 651.0,1587.1 661.3,1615.5" fill="none" stroke="#111" stroke-width="2.4" stroke-linejoin="round" stroke-linecap="round"/>
<polyline points="656.1,1556.1 653.5,1592.3" fill="none" stroke="#111" stroke-width="2.4" stroke-linejoin="round" stroke-linecap="round"/>
<polyline points="681.9,1551.0 681.9,1607.7" fill="none" stroke="#111" stroke-width="2.4" stroke-linejoin="round" stroke-linecap="round"/>
<polyline points="656.1,1615.5 666.5,1618.1 684.5,1607.7 700.0,1592.3 720.6,1576.8 728.4,1569.0" fill="none" stroke="#111" stroke-width="2.4" stroke-linejoin="round" stroke-linecap="round"/>
<polyline points="558.1,1584.5 563.2,1561.3 583.9,1548.4 596.8,1545.8 607.1,1551.0" fill="none" stroke="#111" stroke-width="2.4" stroke-linejoin="round" stroke-linecap="round"/>
<polyline points="581.3,1551.0 594.2,1563.9 601.9,1581.9 604.5,1618.1" fill="none" stroke="#111" stroke-width="2.4" stroke-linejoin="round" stroke-linecap="round"/>
<polyline points="545.2,1592.3 550.3,1589.7 558.1,1594.8" fill="none" stroke="#111" stroke-width="2.4" stroke-linejoin="round" stroke-linecap="round"/>
<polyline points="537.4,1618.1 552.9,1616.8" fill="none" stroke="#111" stroke-width="2.4" stroke-linejoin="round" stroke-linecap="round"/>
<polyline points="537.4,1618.1 540.0,1669.7 552.9,1674.8" fill="none" stroke="#111" stroke-width="2.4" stroke-linejoin="round" stroke-linecap="round"/>
<polyline points="563.2,1628.4 564.5,1667.1" fill="none" stroke="#111" stroke-width="2.4" stroke-linejoin="round" stroke-linecap="round"/>
<polyline points="589.0,1633.5 590.3,1656.8" fill="none" stroke="#111" stroke-width="2.4" stroke-linejoin="round" stroke-linecap="round"/>
<polyline points="609.7,1584.5 617.4,1581.9 620.0,1618.1" fill="none" stroke="#111" stroke-width="2.4" stroke-linejoin="round" stroke-linecap="round"/>
<polyline points="764.5,1360.0 769.7,1372.9 774.8,1411.6 773.5,1445.2 764.5,1471.0 761.9,1514.8 759.4,1563.9" fill="none" stroke="#111" stroke-width="2.4" stroke-linejoin="round" stroke-linecap="round"/>
<polyline points="772.3,1372.9 777.4,1367.7" fill="none" stroke="#111" stroke-width="2.4" stroke-linejoin="round" stroke-linecap="round"/>
<polygon points="771.0,1411.6 773.5,1375.5 794.2,1365.2 768.4,1450.3" fill="url(#rkl)"/>
<polygon points="786.5,1504.5 840.6,1532.9 809.7,1558.7 785.2,1556.1" fill="url(#rkl)"/>
<polygon points="827.7,1454.2 881.9,1473.5 879.4,1483.9 840.6,1532.9" fill="url(#rkl)"/>
<polygon points="866.5,1432.3 902.6,1396.1 884.5,1468.4" fill="url(#rkl)"/>
<polygon points="838.1,1372.9 866.5,1363.9 867.7,1406.5" fill="url(#rkl)"/>
<polygon points="778.7,1463.2 769.4,1452.9 763.7,1514.8 762.7,1563.9 785.2,1556.1 786.5,1504.5" fill="url(#rkl)"/>
<polygon points="879.4,1518.7 894.8,1517.4 851.0,1556.1 838.1,1574.2 807.1,1602.6 791.6,1592.3" fill="url(#rkl)"/>
<polygon points="977.4,1492.9 969.7,1527.7 954.2,1566.5 936.1,1592.3 923.2,1602.6 910.3,1620.6 894.8,1628.4 874.2,1633.5" fill="url(#rkl)"/>
<polygon points="920.6,1637.4 905.2,1638.7 879.4,1654.2 851.0,1680.0 920.6,1680.0" fill="url(#rkl)"/>
<polyline points="762.7,1563.9 763.7,1514.8 768.9,1463.2 769.4,1450.3 778.7,1446.5" fill="none" stroke="#111" stroke-width="2.4" stroke-linejoin="round" stroke-linecap="round"/>
<polyline points="768.4,1452.9 771.0,1411.6 773.5,1375.5 791.6,1366.5" fill="none" stroke="#111" stroke-width="2.4" stroke-linejoin="round" stroke-linecap="round"/>
<polyline points="778.7,1370.3 794.2,1365.2" fill="none" stroke="#111" stroke-width="2.4" stroke-linejoin="round" stroke-linecap="round"/>
<polyline points="838.1,1372.9 866.5,1363.9 867.7,1406.5" fill="none" stroke="#111" stroke-width="2.4" stroke-linejoin="round" stroke-linecap="round"/>
<polyline points="894.8,1360.0 902.6,1396.1 925.8,1360.0" fill="none" stroke="#111" stroke-width="2.4" stroke-linejoin="round" stroke-linecap="round"/>
<polyline points="902.6,1396.1 894.8,1424.5 884.5,1468.4 879.4,1483.9 874.2,1499.4 858.7,1520.0 840.6,1535.5 809.7,1558.7 786.5,1558.7 762.7,1563.9" fill="none" stroke="#111" stroke-width="2.4" stroke-linejoin="round" stroke-linecap="round"/>
<polyline points="827.7,1454.2 840.6,1532.9" fill="none" stroke="#111" stroke-width="2.4" stroke-linejoin="round" stroke-linecap="round"/>
<polyline points="866.5,1432.3 881.9,1473.5" fill="none" stroke="#111" stroke-width="2.4" stroke-linejoin="round" stroke-linecap="round"/>
<polyline points="786.5,1504.5 785.2,1556.1" fill="none" stroke="#111" stroke-width="2.4" stroke-linejoin="round" stroke-linecap="round"/>
<polyline points="910.3,1478.7 898.7,1483.9 889.7,1514.8 884.5,1517.4 894.8,1517.4" fill="none" stroke="#111" stroke-width="2.4" stroke-linejoin="round" stroke-linecap="round"/>
<polyline points="879.4,1518.7 851.0,1556.1 838.1,1574.2 807.1,1602.6 801.9,1606.5" fill="none" stroke="#111" stroke-width="2.4" stroke-linejoin="round" stroke-linecap="round"/>
<polyline points="848.4,1557.4 866.5,1560.0" fill="none" stroke="#111" stroke-width="2.4" stroke-linejoin="round" stroke-linecap="round"/>
<polyline points="977.4,1492.9 969.7,1527.7 954.2,1566.5 936.1,1592.3 923.2,1602.6 910.3,1620.6 894.8,1628.4" fill="none" stroke="#111" stroke-width="2.4" stroke-linejoin="round" stroke-linecap="round"/>
<polyline points="936.1,1592.3 949.0,1592.3" fill="none" stroke="#111" stroke-width="2.4" stroke-linejoin="round" stroke-linecap="round"/>
<polyline points="920.6,1637.4 905.2,1638.7 879.4,1654.2 851.0,1680.0" fill="none" stroke="#111" stroke-width="2.4" stroke-linejoin="round" stroke-linecap="round"/>
<polyline points="894.8,1628.4 897.4,1612.9 907.7,1610.3" fill="none" stroke="#111" stroke-width="2.4" stroke-linejoin="round" stroke-linecap="round"/>
<polyline points="773.5,1605.2 783.9,1597.4 799.4,1600.0 809.7,1605.2" fill="none" stroke="#111" stroke-width="2.4" stroke-linejoin="round" stroke-linecap="round"/>
<polyline points="801.9,1605.2 825.2,1607.7 830.3,1615.5" fill="none" stroke="#111" stroke-width="2.4" stroke-linejoin="round" stroke-linecap="round"/>
<polyline points="765.8,1615.5 789.0,1620.6" fill="none" stroke="#111" stroke-width="2.4" stroke-linejoin="round" stroke-linecap="round"/>
<polyline points="740.0,1633.5 760.6,1638.7" fill="none" stroke="#111" stroke-width="2.4" stroke-linejoin="round" stroke-linecap="round"/>
<polygon points="537.4,1619.4 546.5,1591.0 559.4,1585.8 577.4,1580.6 603.2,1575.5 621.3,1619.4 613.5,1629.7 600.6,1647.7 577.4,1663.2 546.5,1673.5 541.3,1660.6" fill="url(#rk)"/>
<polygon points="636.8,1560.0 680.6,1560.0 680.6,1606.5 662.6,1612.9 649.7,1588.4" fill="url(#rk)"/>
<polyline points="541.3,1660.6 546.5,1673.5 561.9,1668.4 577.4,1663.2 592.9,1652.9 600.6,1647.7" fill="none" stroke="#111" stroke-width="2.4" stroke-linejoin="round" stroke-linecap="round"/>
<polyline points="537.4,1619.4 538.7,1637.4 541.3,1660.6" fill="none" stroke="#111" stroke-width="2.4" stroke-linejoin="round" stroke-linecap="round"/>
<polyline points="546.5,1591.0 559.4,1585.8" fill="none" stroke="#111" stroke-width="2.4" stroke-linejoin="round" stroke-linecap="round"/>
<polyline points="549.0,1619.4 551.6,1616.8 559.4,1619.4" fill="none" stroke="#111" stroke-width="2.4" stroke-linejoin="round" stroke-linecap="round"/>
<polyline points="561.9,1627.1 563.2,1668.4" fill="none" stroke="#111" stroke-width="2.4" stroke-linejoin="round" stroke-linecap="round"/>
<polyline points="587.7,1637.4 589.0,1655.5" fill="none" stroke="#111" stroke-width="2.4" stroke-linejoin="round" stroke-linecap="round"/>
<polyline points="608.4,1583.2 618.7,1580.6 621.3,1619.4 613.5,1629.7" fill="none" stroke="#111" stroke-width="2.4" stroke-linejoin="round" stroke-linecap="round"/>
<polyline points="600.6,1560.0 603.2,1575.5" fill="none" stroke="#111" stroke-width="2.4" stroke-linejoin="round" stroke-linecap="round"/>
<polyline points="636.8,1562.6 649.7,1588.4 662.6,1612.9 678.1,1607.7" fill="none" stroke="#111" stroke-width="2.4" stroke-linejoin="round" stroke-linecap="round"/>
<polyline points="680.6,1560.0 680.6,1606.5" fill="none" stroke="#111" stroke-width="2.4" stroke-linejoin="round" stroke-linecap="round"/>
<polyline points="653.5,1560.0 649.7,1591.0" fill="none" stroke="#111" stroke-width="2.4" stroke-linejoin="round" stroke-linecap="round"/>
<polyline points="680.6,1598.7 696.1,1588.4 716.8,1575.5 724.5,1567.7" fill="none" stroke="#111" stroke-width="2.4" stroke-linejoin="round" stroke-linecap="round"/>
<polyline points="688.4,1694.2 727.1,1652.9 732.3,1645.2" fill="none" stroke="#111" stroke-width="2.4" stroke-linejoin="round" stroke-linecap="round"/>
<polyline points="745.2,1634.8 758.1,1637.4" fill="none" stroke="#111" stroke-width="2.4" stroke-linejoin="round" stroke-linecap="round"/>
<polyline points="740.0,1619.4 786.5,1619.4" fill="none" stroke="#111" stroke-width="2.4" stroke-linejoin="round" stroke-linecap="round"/>
<polyline points="778.7,1598.7 789.0,1596.1 799.4,1601.3" fill="none" stroke="#111" stroke-width="2.4" stroke-linejoin="round" stroke-linecap="round"/>
<polyline points="809.7,1596.1 820.0,1585.8" fill="none" stroke="#111" stroke-width="2.4" stroke-linejoin="round" stroke-linecap="round"/>
<polyline points="758.1,1560.0 771.0,1562.6 783.9,1560.0" fill="none" stroke="#111" stroke-width="2.4" stroke-linejoin="round" stroke-linecap="round"/>
<polygon points="839.4,521.8 846.8,500.8 859.4,486.1 873.0,484.0 876.1,496.6 790.2,767.1 775.5,800.0 737.7,800.0 736.7,760.8 741.9,746.1 752.4,739.9 774.4,739.9 776.5,703.2 787.0,702.1 788.1,674.9 794.4,660.2 806.9,650.7 798.6,649.7 797.5,597.3 800.7,576.3 818.5,574.2 817.4,544.8 825.8,528.1 837.3,522.8" fill="url(#rkh)"/>
<polyline points="839.4,521.8 844.7,502.9 855.2,488.2 865.7,484.0 873.0,485.1 875.1,495.6" fill="none" stroke="#111" stroke-width="2.4" stroke-linejoin="round" stroke-linecap="round"/>
<polyline points="818.5,574.2 817.4,544.8 825.8,528.1 837.3,522.8 844.7,526.0 846.8,538.6 847.8,574.2" fill="none" stroke="#111" stroke-width="2.4" stroke-linejoin="round" stroke-linecap="round"/>
<polyline points="798.6,649.7 797.5,597.3 800.7,576.3 819.5,573.2 830.0,576.3 851.0,572.1" fill="none" stroke="#111" stroke-width="2.4" stroke-linejoin="round" stroke-linecap="round"/>
<polyline points="829.0,576.3 829.0,649.7" fill="none" stroke="#111" stroke-width="2.4" stroke-linejoin="round" stroke-linecap="round"/>
<polyline points="787.0,702.1 788.1,674.9 794.4,660.2 806.9,650.7 818.5,650.7" fill="none" stroke="#111" stroke-width="2.4" stroke-linejoin="round" stroke-linecap="round"/>
<polyline points="776.5,800.0 776.5,703.2 808.0,703.2" fill="none" stroke="#111" stroke-width="2.4" stroke-linejoin="round" stroke-linecap="round"/>
<polyline points="737.7,800.0 736.7,760.8 741.9,746.1 752.4,739.9 762.9,737.8 774.4,739.9" fill="none" stroke="#111" stroke-width="2.4" stroke-linejoin="round" stroke-linecap="round"/>
<polyline points="884.5,440.0 889.8,477.7" fill="none" stroke="#111" stroke-width="2.4" stroke-linejoin="round" stroke-linecap="round"/>
<polyline points="797.0,369.5 887.6,365.2" fill="none" stroke="#5b2a8c" stroke-width="4"/>
<polyline points="797.0,378.0 887.6,373.2" fill="none" stroke="#5b2a8c" stroke-width="4"/>
<polyline points="797.0,395.4 887.6,390.8" fill="none" stroke="#5b2a8c" stroke-width="4"/>
<polyline points="550.3,900.6 636.8,872.3" fill="none" stroke="#5b2a8c" stroke-width="4"/>
<polyline points="552.9,907.9 639.4,879.2" fill="none" stroke="#5b2a8c" stroke-width="4"/>
<polyline points="556.8,916.9 643.2,890.3" fill="none" stroke="#5b2a8c" stroke-width="4"/>
<polyline points="694.8,1253.0 790.3,1253.0" fill="none" stroke="#5b2a8c" stroke-width="4"/>
<polyline points="694.8,1260.0 790.3,1260.0" fill="none" stroke="#5b2a8c" stroke-width="4"/>
<polyline points="693.5,1273.7 794.2,1273.7" fill="none" stroke="#5b2a8c" stroke-width="4"/>
<polyline points="612.9,1627.3 754.8,1627.3" fill="none" stroke="#5b2a8c" stroke-width="4"/>
<polyline points="602.6,1635.8 738.0,1635.8" fill="none" stroke="#5b2a8c" stroke-width="4"/>
<polyline points="594.8,1650.5 727.7,1650.5" fill="none" stroke="#5b2a8c" stroke-width="4"/>
<polyline points="916.6,327.2 897.3,343.0 882.8,381.6 793.2,385.3 789.6,390.1 786.0,430.0 780.3,443.6 759.8,481.0 758.6,511.3 764.6,545.2 746.5,557.3 694.4,561.6 693.2,583.9 701.7,632.3 681.1,663.7 684.8,700.0 683.2,731.6 673.5,734.8 644.5,734.8 592.9,754.2 591.3,763.9 599.4,793.5 595.5,829.7 542.6,856.8 545.2,902.0 552.9,912.3 638.0,886.5 651.0,887.7 669.0,894.2 661.3,914.8 662.6,943.2 702.6,956.1 702.6,992.3 749.0,1023.2 767.0,1041.3 782.0,1065.0 796.8,1098.7 804.5,1127.0 807.1,1163.2 807.1,1178.7 820.0,1225.2 820.0,1243.2 807.1,1258.7 786.5,1263.9 662.6,1265.2 670.3,1318.0 672.9,1372.3 668.4,1375.2 637.4,1398.4 609.0,1419.0 598.7,1430.6 614.2,1447.4 650.3,1481.0 661.9,1501.6 660.6,1524.8 655.5,1542.9 645.2,1550.6 614.2,1550.6 609.0,1566.0 601.3,1576.5 585.8,1588.1 598.7,1604.8 606.5,1633.2 607.7,1642.3 717.4,1642.3 763.9,1610.0 783.2,1610.0" fill="none" stroke="#c20f2b" stroke-width="5" stroke-linejoin="round"/>
<polyline points="737.4,1155.5 747.7,1159.4 804.5,1160.6" fill="none" stroke="#c20f2b" stroke-width="4" stroke-linejoin="round"/>
<polyline points="917.0,325.0 966.6,282.4 1053.0,330.0" fill="none" stroke="#f4a51c" stroke-width="4.5" stroke-dasharray="4.5 4.5" stroke-linejoin="round"/>
<polygon points="1066.4,342.3 1050.7,339.5 1060.4,327.5" fill="#f4a51c"/>
<polyline points="966.6,282.4 955.7,275.2 948.5,238.9 937.6,191.7 934.0,162.7 935.0,155.0" fill="none" stroke="#f4a51c" stroke-width="4.5" stroke-dasharray="4.5 4.5" stroke-linejoin="round"/>
<polygon points="933.0,141.0 942.9,159.0 923.1,159.0" fill="#f4a51c"/>
<polyline points="800.0,1605.0 920.0,1611.0 1006.0,1618.0" fill="none" stroke="#f4a51c" stroke-width="4.5" stroke-dasharray="4.5 4.5" stroke-linejoin="round"/>
<polygon points="786.0,1606.0 801.5,1596.4 802.4,1614.0" fill="#f4a51c"/>
<polyline points="1003.0,1601.8 1069.0,1579.8 1035.0,1561.0 1084.0,1520.5 1043.5,1503.5 1106.0,1457.8 1053.7,1435.8 1114.7,1405.3 1084.0,1376.0" fill="none" stroke="#f4a51c" stroke-width="4.5" stroke-dasharray="4.5 4.5" stroke-linejoin="round"/>
<polygon points="1077.0,1367.0 1093.1,1372.9 1080.6,1383.7" fill="#f4a51c"/>
<polyline points="1006.0,1605.0 1135.0,1679.7" fill="none" stroke="#f4a51c" stroke-width="4.5" stroke-dasharray="4.5 4.5" stroke-linejoin="round"/>
<rect x="997" y="1590" width="5" height="26" fill="#c87f2a"/>
<rect x="989.4" y="1559.4" width="20.3" height="30.5" fill="#bdbdbf" stroke="#222" stroke-width="1.5"/>
<ellipse cx="749.0" cy="1566.5" rx="4.7" ry="3.6" transform="rotate(-4 749.0 1566.5)" fill="#fff" stroke="#111" stroke-width="1.7"/>
<ellipse cx="760.6" cy="1572.9" rx="5.5" ry="4.2" transform="rotate(-13 760.6 1572.9)" fill="#fff" stroke="#111" stroke-width="1.7"/>
<ellipse cx="772.3" cy="1575.5" rx="4.2" ry="3.3" transform="rotate(-7 772.3 1575.5)" fill="#fff" stroke="#111" stroke-width="1.7"/>
<ellipse cx="792.9" cy="1566.5" rx="4.7" ry="3.8" transform="rotate(-1 792.9 1566.5)" fill="#fff" stroke="#111" stroke-width="1.7"/>
<ellipse cx="814.8" cy="1575.5" rx="6.0" ry="4.5" transform="rotate(4 814.8 1575.5)" fill="#fff" stroke="#111" stroke-width="1.7"/>
<ellipse cx="844.5" cy="1543.2" rx="4.5" ry="3.5" transform="rotate(11 844.5 1543.2)" fill="#fff" stroke="#111" stroke-width="1.7"/>
<ellipse cx="860.0" cy="1526.5" rx="5.3" ry="4.1" transform="rotate(5 860.0 1526.5)" fill="#fff" stroke="#111" stroke-width="1.7"/>
<ellipse cx="892.3" cy="1536.8" rx="4.3" ry="3.4" transform="rotate(3 892.3 1536.8)" fill="#fff" stroke="#111" stroke-width="1.7"/>
<ellipse cx="906.5" cy="1514.8" rx="4.8" ry="3.5" transform="rotate(11 906.5 1514.8)" fill="#fff" stroke="#111" stroke-width="1.7"/>
<ellipse cx="910.3" cy="1535.5" rx="5.2" ry="4.0" transform="rotate(11 910.3 1535.5)" fill="#fff" stroke="#111" stroke-width="1.7"/>
<ellipse cx="898.7" cy="1551.0" rx="5.7" ry="4.5" transform="rotate(-3 898.7 1551.0)" fill="#fff" stroke="#111" stroke-width="1.7"/>
<ellipse cx="878.0" cy="1548.4" rx="5.9" ry="4.4" transform="rotate(13 878.0 1548.4)" fill="#fff" stroke="#111" stroke-width="1.7"/>
<ellipse cx="918.0" cy="1549.7" rx="6.0" ry="4.4" transform="rotate(-11 918.0 1549.7)" fill="#fff" stroke="#111" stroke-width="1.7"/>
<ellipse cx="934.8" cy="1549.7" rx="4.7" ry="3.7" transform="rotate(-2 934.8 1549.7)" fill="#fff" stroke="#111" stroke-width="1.7"/>
<ellipse cx="883.2" cy="1562.6" rx="5.5" ry="4.1" transform="rotate(0 883.2 1562.6)" fill="#fff" stroke="#111" stroke-width="1.7"/>
<ellipse cx="894.8" cy="1567.7" rx="5.0" ry="3.7" transform="rotate(3 894.8 1567.7)" fill="#fff" stroke="#111" stroke-width="1.7"/>
<ellipse cx="920.6" cy="1566.5" rx="5.4" ry="4.3" transform="rotate(5 920.6 1566.5)" fill="#fff" stroke="#111" stroke-width="1.7"/>
<ellipse cx="925.8" cy="1561.3" rx="6.2" ry="4.8" transform="rotate(15 925.8 1561.3)" fill="#fff" stroke="#111" stroke-width="1.7"/>
<ellipse cx="943.9" cy="1563.9" rx="5.6" ry="4.1" transform="rotate(11 943.9 1563.9)" fill="#fff" stroke="#111" stroke-width="1.7"/>
<ellipse cx="936.1" cy="1576.8" rx="6.2" ry="4.9" transform="rotate(2 936.1 1576.8)" fill="#fff" stroke="#111" stroke-width="1.7"/>
<ellipse cx="909.0" cy="1579.4" rx="5.7" ry="4.2" transform="rotate(10 909.0 1579.4)" fill="#fff" stroke="#111" stroke-width="1.7"/>
<ellipse cx="857.4" cy="1571.6" rx="5.4" ry="4.0" transform="rotate(-13 857.4 1571.6)" fill="#fff" stroke="#111" stroke-width="1.7"/>
<ellipse cx="876.8" cy="1579.4" rx="6.0" ry="4.8" transform="rotate(-12 876.8 1579.4)" fill="#fff" stroke="#111" stroke-width="1.7"/>
<ellipse cx="889.7" cy="1584.5" rx="5.9" ry="4.4" transform="rotate(-10 889.7 1584.5)" fill="#fff" stroke="#111" stroke-width="1.7"/>
<ellipse cx="878.0" cy="1588.4" rx="4.8" ry="3.8" transform="rotate(11 878.0 1588.4)" fill="#fff" stroke="#111" stroke-width="1.7"/>
<ellipse cx="894.8" cy="1593.5" rx="4.3" ry="3.3" transform="rotate(-14 894.8 1593.5)" fill="#fff" stroke="#111" stroke-width="1.7"/>
<ellipse cx="851.0" cy="1585.8" rx="5.7" ry="4.3" transform="rotate(11 851.0 1585.8)" fill="#fff" stroke="#111" stroke-width="1.7"/>
<ellipse cx="763.2" cy="1594.8" rx="6.3" ry="4.8" transform="rotate(15 763.2 1594.8)" fill="#fff" stroke="#111" stroke-width="1.7"/>
<ellipse cx="773.5" cy="1591.0" rx="4.9" ry="3.5" transform="rotate(3 773.5 1591.0)" fill="#fff" stroke="#111" stroke-width="1.7"/>
<ellipse cx="746.5" cy="1603.9" rx="4.3" ry="3.1" transform="rotate(-3 746.5 1603.9)" fill="#fff" stroke="#111" stroke-width="1.7"/>
<ellipse cx="741.3" cy="1616.8" rx="5.5" ry="4.0" transform="rotate(-14 741.3 1616.8)" fill="#fff" stroke="#111" stroke-width="1.7"/>
<ellipse cx="830.3" cy="1618.0" rx="6.0" ry="4.5" transform="rotate(14 830.3 1618.0)" fill="#fff" stroke="#111" stroke-width="1.7"/>
<ellipse cx="816.1" cy="1627.1" rx="6.1" ry="4.6" transform="rotate(-1 816.1 1627.1)" fill="#fff" stroke="#111" stroke-width="1.7"/>
<ellipse cx="858.7" cy="1621.9" rx="5.3" ry="4.1" transform="rotate(3 858.7 1621.9)" fill="#fff" stroke="#111" stroke-width="1.7"/>
<ellipse cx="845.8" cy="1627.1" rx="5.4" ry="4.1" transform="rotate(13 845.8 1627.1)" fill="#fff" stroke="#111" stroke-width="1.7"/>
<ellipse cx="799.4" cy="1637.4" rx="5.3" ry="4.0" transform="rotate(7 799.4 1637.4)" fill="#fff" stroke="#111" stroke-width="1.7"/>
<ellipse cx="822.6" cy="1642.6" rx="4.7" ry="3.5" transform="rotate(14 822.6 1642.6)" fill="#fff" stroke="#111" stroke-width="1.7"/>
<ellipse cx="830.3" cy="1640.0" rx="5.3" ry="4.0" transform="rotate(-15 830.3 1640.0)" fill="#fff" stroke="#111" stroke-width="1.7"/>
<ellipse cx="874.2" cy="1641.3" rx="5.1" ry="3.9" transform="rotate(-14 874.2 1641.3)" fill="#fff" stroke="#111" stroke-width="1.7"/>
<ellipse cx="782.6" cy="1646.5" rx="5.5" ry="4.2" transform="rotate(-13 782.6 1646.5)" fill="#fff" stroke="#111" stroke-width="1.7"/>
<ellipse cx="796.8" cy="1656.8" rx="5.5" ry="4.2" transform="rotate(5 796.8 1656.8)" fill="#fff" stroke="#111" stroke-width="1.7"/>
<ellipse cx="817.4" cy="1659.4" rx="4.9" ry="3.8" transform="rotate(7 817.4 1659.4)" fill="#fff" stroke="#111" stroke-width="1.7"/>
<ellipse cx="840.6" cy="1654.2" rx="4.2" ry="3.1" transform="rotate(5 840.6 1654.2)" fill="#fff" stroke="#111" stroke-width="1.7"/>
<ellipse cx="857.4" cy="1655.5" rx="6.2" ry="4.6" transform="rotate(-1 857.4 1655.5)" fill="#fff" stroke="#111" stroke-width="1.7"/>
<ellipse cx="768.4" cy="1661.9" rx="5.4" ry="4.1" transform="rotate(-4 768.4 1661.9)" fill="#fff" stroke="#111" stroke-width="1.7"/>
<ellipse cx="786.5" cy="1669.7" rx="4.9" ry="3.6" transform="rotate(3 786.5 1669.7)" fill="#fff" stroke="#111" stroke-width="1.7"/>
<ellipse cx="832.9" cy="1667.1" rx="4.8" ry="3.6" transform="rotate(8 832.9 1667.1)" fill="#fff" stroke="#111" stroke-width="1.7"/>
<ellipse cx="750.3" cy="1668.4" rx="4.3" ry="3.3" transform="rotate(7 750.3 1668.4)" fill="#fff" stroke="#111" stroke-width="1.7"/>
<ellipse cx="763.2" cy="1677.4" rx="4.9" ry="3.6" transform="rotate(9 763.2 1677.4)" fill="#fff" stroke="#111" stroke-width="1.7"/>
<ellipse cx="894.8" cy="1629.7" rx="4.7" ry="3.5" transform="rotate(-2 894.8 1629.7)" fill="#fff" stroke="#111" stroke-width="1.7"/>
<ellipse cx="578.7" cy="1665.8" rx="5.7" ry="4.1" transform="rotate(-5 578.7 1665.8)" fill="#fff" stroke="#111" stroke-width="1.7"/>
<ellipse cx="603.2" cy="1667.1" rx="4.9" ry="3.9" transform="rotate(-2 603.2 1667.1)" fill="#fff" stroke="#111" stroke-width="1.7"/>
<ellipse cx="629.0" cy="1667.1" rx="6.0" ry="4.4" transform="rotate(-5 629.0 1667.1)" fill="#fff" stroke="#111" stroke-width="1.7"/>
<ellipse cx="616.1" cy="1674.8" rx="5.6" ry="4.4" transform="rotate(-1 616.1 1674.8)" fill="#fff" stroke="#111" stroke-width="1.7"/>
<ellipse cx="667.7" cy="1672.3" rx="4.7" ry="3.4" transform="rotate(1 667.7 1672.3)" fill="#fff" stroke="#111" stroke-width="1.7"/>
<ellipse cx="684.5" cy="1674.8" rx="4.6" ry="3.6" transform="rotate(10 684.5 1674.8)" fill="#fff" stroke="#111" stroke-width="1.7"/>
<ellipse cx="701.3" cy="1665.8" rx="4.6" ry="3.4" transform="rotate(9 701.3 1665.8)" fill="#fff" stroke="#111" stroke-width="1.7"/>
<ellipse cx="560.6" cy="1686.5" rx="5.5" ry="4.4" transform="rotate(-5 560.6 1686.5)" fill="#fff" stroke="#111" stroke-width="1.7"/>
<ellipse cx="592.9" cy="1685.2" rx="4.5" ry="3.3" transform="rotate(9 592.9 1685.2)" fill="#fff" stroke="#111" stroke-width="1.7"/>
<ellipse cx="614.8" cy="1686.5" rx="4.8" ry="3.6" transform="rotate(-2 614.8 1686.5)" fill="#fff" stroke="#111" stroke-width="1.7"/>
<ellipse cx="648.4" cy="1685.2" rx="5.1" ry="3.8" transform="rotate(13 648.4 1685.2)" fill="#fff" stroke="#111" stroke-width="1.7"/>
<ellipse cx="670.3" cy="1687.7" rx="4.5" ry="3.3" transform="rotate(13 670.3 1687.7)" fill="#fff" stroke="#111" stroke-width="1.7"/>
<ellipse cx="684.5" cy="1686.5" rx="6.0" ry="4.8" transform="rotate(-2 684.5 1686.5)" fill="#fff" stroke="#111" stroke-width="1.7"/>
<ellipse cx="576.1" cy="1695.5" rx="6.2" ry="4.9" transform="rotate(-8 576.1 1695.5)" fill="#fff" stroke="#111" stroke-width="1.7"/>
<ellipse cx="612.3" cy="1702.0" rx="5.8" ry="4.5" transform="rotate(5 612.3 1702.0)" fill="#fff" stroke="#111" stroke-width="1.7"/>
<ellipse cx="626.5" cy="1696.8" rx="5.3" ry="3.9" transform="rotate(-5 626.5 1696.8)" fill="#fff" stroke="#111" stroke-width="1.7"/>
<ellipse cx="636.8" cy="1691.6" rx="4.7" ry="3.4" transform="rotate(3 636.8 1691.6)" fill="#fff" stroke="#111" stroke-width="1.7"/>
<ellipse cx="643.2" cy="1705.8" rx="4.8" ry="3.8" transform="rotate(-14 643.2 1705.8)" fill="#fff" stroke="#111" stroke-width="1.7"/>
<ellipse cx="654.8" cy="1701.9" rx="6.1" ry="4.7" transform="rotate(13 654.8 1701.9)" fill="#fff" stroke="#111" stroke-width="1.7"/>
<ellipse cx="663.9" cy="1696.8" rx="6.1" ry="4.8" transform="rotate(2 663.9 1696.8)" fill="#fff" stroke="#111" stroke-width="1.7"/>
<ellipse cx="590.3" cy="1712.3" rx="4.2" ry="3.3" transform="rotate(-10 590.3 1712.3)" fill="#fff" stroke="#111" stroke-width="1.7"/>
<ellipse cx="627.7" cy="1714.8" rx="4.8" ry="3.7" transform="rotate(1 627.7 1714.8)" fill="#fff" stroke="#111" stroke-width="1.7"/>
<ellipse cx="666.5" cy="1618.0" rx="5.1" ry="4.0" transform="rotate(3 666.5 1618.0)" fill="#fff" stroke="#111" stroke-width="1.7"/>
<ellipse cx="685.8" cy="1614.2" rx="4.9" ry="3.6" transform="rotate(11 685.8 1614.2)" fill="#fff" stroke="#111" stroke-width="1.7"/>
<ellipse cx="698.7" cy="1615.5" rx="5.2" ry="4.1" transform="rotate(-4 698.7 1615.5)" fill="#fff" stroke="#111" stroke-width="1.7"/>
<ellipse cx="706.5" cy="1606.5" rx="4.6" ry="3.5" transform="rotate(10 706.5 1606.5)" fill="#fff" stroke="#111" stroke-width="1.7"/>
<ellipse cx="696.0" cy="1597.4" rx="4.6" ry="3.6" transform="rotate(13 696.0 1597.4)" fill="#fff" stroke="#111" stroke-width="1.7"/>
<ellipse cx="712.9" cy="1592.3" rx="5.9" ry="4.6" transform="rotate(-15 712.9 1592.3)" fill="#fff" stroke="#111" stroke-width="1.7"/>
<ellipse cx="711.6" cy="1584.5" rx="5.5" ry="4.4" transform="rotate(-14 711.6 1584.5)" fill="#fff" stroke="#111" stroke-width="1.7"/>
<ellipse cx="720.6" cy="1575.5" rx="4.8" ry="3.5" transform="rotate(1 720.6 1575.5)" fill="#fff" stroke="#111" stroke-width="1.7"/>
<ellipse cx="814.8" cy="1628.4" rx="5.1" ry="3.9" transform="rotate(8 814.8 1628.4)" fill="#fff" stroke="#111" stroke-width="1.7"/>
<ellipse cx="781.3" cy="1689.0" rx="4.2" ry="3.0" transform="rotate(-11 781.3 1689.0)" fill="#fff" stroke="#111" stroke-width="1.7"/>
<ellipse cx="799.4" cy="1685.2" rx="4.5" ry="3.2" transform="rotate(14 799.4 1685.2)" fill="#fff" stroke="#111" stroke-width="1.7"/>
<ellipse cx="758.0" cy="1702.0" rx="6.0" ry="4.4" transform="rotate(0 758.0 1702.0)" fill="#fff" stroke="#111" stroke-width="1.7"/>
<ellipse cx="769.7" cy="1699.4" rx="4.9" ry="3.6" transform="rotate(-4 769.7 1699.4)" fill="#fff" stroke="#111" stroke-width="1.7"/>
<ellipse cx="791.6" cy="1703.2" rx="5.6" ry="4.3" transform="rotate(-4 791.6 1703.2)" fill="#fff" stroke="#111" stroke-width="1.7"/>
<ellipse cx="813.5" cy="1707.1" rx="4.6" ry="3.4" transform="rotate(-11 813.5 1707.1)" fill="#fff" stroke="#111" stroke-width="1.7"/>
<ellipse cx="741.3" cy="1683.9" rx="5.4" ry="4.2" transform="rotate(-4 741.3 1683.9)" fill="#fff" stroke="#111" stroke-width="1.7"/>
<ellipse cx="763.2" cy="1681.3" rx="4.4" ry="3.2" transform="rotate(-4 763.2 1681.3)" fill="#fff" stroke="#111" stroke-width="1.7"/>
<ellipse cx="786.5" cy="1671.0" rx="5.5" ry="4.3" transform="rotate(-4 786.5 1671.0)" fill="#fff" stroke="#111" stroke-width="1.7"/>
<ellipse cx="817.4" cy="1645.2" rx="5.9" ry="4.5" transform="rotate(-2 817.4 1645.2)" fill="#fff" stroke="#111" stroke-width="1.7"/>
<ellipse cx="827.7" cy="1561.3" rx="6" ry="4.6" fill="#f1ead2" stroke="#111" stroke-width="1.7"/>
<ellipse cx="838.1" cy="1596.1" rx="6" ry="4.6" fill="#f1ead2" stroke="#111" stroke-width="1.7"/>
<ellipse cx="880.6" cy="1623.2" rx="6" ry="4.6" fill="#f1ead2" stroke="#111" stroke-width="1.7"/>
<ellipse cx="854.8" cy="1638.7" rx="6" ry="4.6" fill="#f1ead2" stroke="#111" stroke-width="1.7"/>
<circle cx="794.2" cy="1576.8" r="3.8" fill="#fff" stroke="#111" stroke-width="1.3"/>
<circle cx="790.6" cy="1583.8" r="3.8" fill="#fff" stroke="#111" stroke-width="1.3"/>
<circle cx="797.8000000000001" cy="1583.8" r="3.8" fill="#fff" stroke="#111" stroke-width="1.3"/>
<circle cx="787.0" cy="1590.8" r="3.8" fill="#fff" stroke="#111" stroke-width="1.3"/>
<circle cx="794.2" cy="1590.8" r="3.8" fill="#fff" stroke="#111" stroke-width="1.3"/>
<circle cx="801.4000000000001" cy="1590.8" r="3.8" fill="#fff" stroke="#111" stroke-width="1.3"/>
<circle cx="923.2" cy="1587.1" r="3.8" fill="#fff" stroke="#111" stroke-width="1.3"/>
<circle cx="919.6" cy="1594.1" r="3.8" fill="#fff" stroke="#111" stroke-width="1.3"/>
<circle cx="926.8000000000001" cy="1594.1" r="3.8" fill="#fff" stroke="#111" stroke-width="1.3"/>
<circle cx="916.0" cy="1601.1" r="3.8" fill="#fff" stroke="#111" stroke-width="1.3"/>
<circle cx="923.2" cy="1601.1" r="3.8" fill="#fff" stroke="#111" stroke-width="1.3"/>
<circle cx="930.4000000000001" cy="1601.1" r="3.8" fill="#fff" stroke="#111" stroke-width="1.3"/>
<use href="#bush" x="844.4" y="199.6"/>
<use href="#bush" x="812.0" y="222.8"/>
<use href="#bush" x="795.3" y="246.0"/>
<use href="#bush" x="844.4" y="243.5"/>
<use href="#bush" x="907.6" y="208.6"/>
<use href="#bush" x="911.5" y="235.7"/>
<use href="#bush" x="921.8" y="256.4"/>
<use href="#bush" x="905.0" y="282.2"/>
<use href="#bush" x="885.6" y="301.5"/>
<use href="#bush" x="937.3" y="318.3"/>
<use href="#bush" x="919.2" y="344.1"/>
<use href="#bush" x="883.0" y="382.8"/>
<use href="#bush" x="977.0" y="294.8"/>
<use href="#bush" x="998.8" y="333.0"/>
<use href="#bush" x="957.0" y="300.0"/>
<use href="#bush" x="727.6" y="827.6"/>
<use href="#bush" x="741.8" y="890.9"/>
<use href="#bush" x="488.9" y="930.9"/>
<use href="#bush" x="513.4" y="923.1"/>
<use href="#bush" x="519.8" y="1214.7"/>
<use href="#bush" x="558.5" y="1204.4"/>
<use href="#bush" x="592.1" y="1186.4"/>
<use href="#bush" x="879.2" y="1189.0"/>
<use href="#bush" x="902.4" y="1189.0"/>
<use href="#bush" x="890.8" y="1254.7"/>
<use href="#bush" x="562.4" y="1438.6"/>
<use href="#bush" x="504.4" y="1450.2"/>
<use href="#bush" x="580.5" y="1486.4"/>
<use href="#bush" x="550.8" y="1504.4"/>
<use href="#bush" x="530.2" y="1567.6"/>
<use href="#bush" x="517.3" y="1597.3"/>
<use href="#bush" x="980.5" y="1468.3"/>
<use href="#bush" x="1015.3" y="1468.3"/>
<use href="#bush" x="998.5" y="1504.4"/>
<use href="#bush" x="954.7" y="1538.0"/>
<use href="#bush" x="949.5" y="1579.3"/>
<use href="#bush" x="1072.6" y="1600.6"/>
<use href="#bush" x="923.5" y="1627.7"/>
<use href="#bush" x="974.4" y="1631.1"/>
<use href="#bush" x="1015.0" y="1644.7"/>
<use href="#bush" x="1106.5" y="1624.3"/>
<use href="#bush" x="1123.4" y="1641.3"/>
<use href="#bush" x="921.9" y="1659.9"/>
<use href="#bush" x="954.0" y="1665.0"/>
<use href="#bush" x="993.0" y="1683.6"/>
<use href="#bush" x="1025.2" y="1678.5"/>
<use href="#bush" x="1065.8" y="1663.3"/>
<use href="#pine" transform="translate(1114.7,1487.1) scale(1.00)"/>
<use href="#pine" transform="translate(1116.4,1548.0) scale(1.00)"/>
<use href="#pine" transform="translate(1153.6,1548.0) scale(1.00)"/>
<use href="#pine" transform="translate(1177.3,1602.3) scale(1.00)"/>
<use href="#pine" transform="translate(1011.4,1615.8) scale(1.00)"/>
<use href="#pine" transform="translate(1063.9,1636.1) scale(1.00)"/>
<use href="#pine" transform="translate(559.4,1404.0) scale(0.80)"/>
<polygon points="868,819 934,806 946.8,740 959.6,806 1023.7,819 959.6,832 946.8,898.4 934,832" fill="#fff" stroke="#c8c8ca" stroke-width="2"/>
<polygon points="946.8,741.6 935,788 958.6,788" fill="#e2001a" stroke="#111" stroke-width="2.2" stroke-linejoin="round"/>
<circle cx="946.8" cy="819" r="33" fill="#e2001a" stroke="#111" stroke-width="2.6"/>
<text x="946.8" y="811" font-size="13" fill="#111" text-anchor="middle" textLength="52" lengthAdjust="spacingAndGlyphs">Expos.</text>
<text x="946.8" y="833" font-size="19" fill="#fff" text-anchor="middle" textLength="54" lengthAdjust="spacingAndGlyphs">Nord</text>
<text x="915.6" y="353.2" font-size="19" fill="#d7061f" text-anchor="middle">A</text>
<text x="774.2" y="395.8" font-size="19" fill="#d7061f" text-anchor="middle">B</text>
<text x="843.9" y="416.5" font-size="19" fill="#d7061f" text-anchor="middle">A</text>
<text x="740.0" y="468.2" font-size="19" fill="#d7061f" text-anchor="middle">B/C</text>
<text x="744.0" y="543.5" font-size="19" fill="#d7061f" text-anchor="middle">B</text>
<text x="704.5" y="554.4" font-size="19" fill="#d7061f" text-anchor="middle">B/C</text>
<text x="685.2" y="622.3" font-size="19" fill="#d7061f" text-anchor="middle">C</text>
<text x="704.5" y="685.5" font-size="19" fill="#d7061f" text-anchor="middle">B/C</text>
<text x="627.4" y="729.4" font-size="19" fill="#d7061f" text-anchor="middle">B/C</text>
<text x="668.4" y="729.4" font-size="19" fill="#d7061f" text-anchor="middle">A</text>
<text x="583.4" y="796.8" font-size="19" fill="#d7061f" text-anchor="middle">C</text>
<text x="563.2" y="835.5" font-size="19" fill="#d7061f" text-anchor="middle">A</text>
<text x="534.8" y="910.8" font-size="19" fill="#d7061f" text-anchor="middle">B</text>
<text x="600.6" y="925.8" font-size="19" fill="#d7061f" text-anchor="middle">A</text>
<text x="678.7" y="926.3" font-size="19" fill="#d7061f" text-anchor="middle">C/D</text>
<text x="717.5" y="947.7" font-size="19" fill="#d7061f" text-anchor="middle">B/C</text>
<text x="740.6" y="992.4" font-size="19" fill="#d7061f" text-anchor="middle">B/C</text>
<text x="778.0" y="1029.7" font-size="19" fill="#d7061f" text-anchor="middle">B/C</text>
<text x="806.4" y="1072.3" font-size="19" fill="#d7061f" text-anchor="middle">B/C</text>
<text x="763.2" y="1151.6" font-size="19" fill="#d7061f" text-anchor="middle">A</text>
<text x="820.0" y="1133.5" font-size="19" fill="#d7061f" text-anchor="middle">B</text>
<text x="830.3" y="1209.2" font-size="19" fill="#d7061f" text-anchor="middle">A</text>
<text x="832.4" y="1263.9" font-size="19" fill="#d7061f" text-anchor="middle">B</text>
<text x="738.7" y="1296.1" font-size="19" fill="#d7061f" text-anchor="middle">A</text>
<text x="649.4" y="1338.7" font-size="19" fill="#d7061f" text-anchor="middle">C/D</text>
<text x="635.5" y="1386.8" font-size="19" fill="#d7061f" text-anchor="middle">B/C</text>
<text x="585.3" y="1429.4" font-size="19" fill="#d7061f" text-anchor="middle">B</text>
<text x="613.5" y="1478.4" font-size="19" fill="#d7061f" text-anchor="middle">B/C</text>
<text x="680.6" y="1500.3" font-size="19" fill="#d7061f" text-anchor="middle">B/C</text>
<text x="629.7" y="1573.9" font-size="19" fill="#d7061f" text-anchor="middle">B</text>
<text x="578.4" y="1613.9" font-size="19" fill="#d7061f" text-anchor="middle">B/C</text>
<text x="769.0" y="1636.3" font-size="19" fill="#d7061f" text-anchor="middle">A</text>
<text x="650.3" y="1670.6" font-size="19" fill="#d7061f" text-anchor="middle">A</text>
<text x="917.4" y="389.4" font-size="16.4" fill="#111" textLength="115" lengthAdjust="spacingAndGlyphs">Alu-Seilbrücke</text>
<text x="695.5" y="493.2" font-size="16.4" fill="#111" textLength="50.3" lengthAdjust="spacingAndGlyphs">Pfeiler</text>
<text x="708.4" y="617.9" font-size="16.4" fill="#111" textLength="32.2" lengthAdjust="spacingAndGlyphs">steil</text>
<text x="558.0" y="812.3" font-size="16.4" fill="#111" textLength="32.3" lengthAdjust="spacingAndGlyphs">steil</text>
<text x="407.0" y="920.6" font-size="16.4" fill="#111" textLength="115" lengthAdjust="spacingAndGlyphs">Alu-Seilbrücke</text>
<text x="702.6" y="923.7" font-size="16.4" fill="#111" textLength="32.2" lengthAdjust="spacingAndGlyphs">steil</text>
<text x="715.5" y="1121.9" font-size="16.4" fill="#111" textLength="71" lengthAdjust="spacingAndGlyphs">Schlund-</text>
<text x="715.5" y="1138.7" font-size="16.4" fill="#111" textLength="37.4" lengthAdjust="spacingAndGlyphs">platz</text>
<text x="567.5" y="1260.8" font-size="16.4" fill="#111" textLength="115.7" lengthAdjust="spacingAndGlyphs">Alu-Seilbrücke</text>
<text x="627.7" y="1354.2" font-size="16.4" fill="#111" textLength="32.3" lengthAdjust="spacingAndGlyphs">steil</text>
<text x="566.5" y="1385.5" font-size="16.4" fill="#111" textLength="47.7" lengthAdjust="spacingAndGlyphs">plattig</text>
<text x="646.5" y="1469.4" font-size="16.4" fill="#111" textLength="49" lengthAdjust="spacingAndGlyphs">plattig</text>
<text x="480.6" y="1545.8" font-size="16.4" fill="#111" textLength="100.7" lengthAdjust="spacingAndGlyphs">Spreizschritt</text>
<text x="444.0" y="1651.6" font-size="16.4" fill="#111" textLength="115.4" lengthAdjust="spacingAndGlyphs">Alu-Seilbrücke</text>
<text x="1099.4" y="1338.3" font-size="16.4" fill="#111" text-anchor="end">Wanderweg zur</text>
<text x="1099.4" y="1355.2" font-size="16.4" fill="#111" text-anchor="end">Kerschbaumeralm</text>
<g transform="translate(944.5,201) rotate(50.5)"><text x="23.9" y="-18.8" font-size="18" fill="#111" textLength="123" lengthAdjust="spacingAndGlyphs">Wanderweg zur</text><text x="0" y="0" font-size="18" fill="#111" textLength="150" lengthAdjust="spacingAndGlyphs">Kerschbaumeralm</text></g>
<text x="396" y="1138" font-size="42" fill="#b5d8f3" stroke="#5aa6dc" stroke-width="1.4" textLength="178" lengthAdjust="spacingAndGlyphs">Klapffall</text>
</g>
<!-- LEGEND BOX LEFT -->
<g id="legend1">
<rect x="49.5" y="37.3" width="229.5" height="434" fill="#6a6a6d"/>
<rect x="51.5" y="109.6" width="225.5" height="359.7" fill="#efefef"/>
<text x="59" y="67.3" font-size="27.5" fill="#fff" textLength="150" lengthAdjust="spacingAndGlyphs">Klettersteig</text>
<text x="59" y="98.7" font-size="27.5" fill="#fff" textLength="216" lengthAdjust="spacingAndGlyphs">Verborgene Welt</text>
<rect x="61" y="126.2" width="47.3" height="46.7" fill="#000"/>
<rect x="62" y="183.2" width="46.9" height="46.5" fill="#000"/>
<rect x="61" y="244" width="48.8" height="47.8" fill="#000"/>
<rect x="61" y="306.9" width="47" height="46.1" fill="#000"/>
<text x="66.9" y="214.8" font-size="21.5" fill="#fff" textLength="40.4" lengthAdjust="spacingAndGlyphs">Diff.</text>
<text x="119.1" y="145.2" font-size="25" fill="#000" textLength="85" lengthAdjust="spacingAndGlyphs">110 Hm</text>
<text x="119.1" y="172.9" font-size="25" fill="#000" textLength="65" lengthAdjust="spacingAndGlyphs">1 Std.</text>
<text x="118.2" y="214.8" font-size="25" fill="#000" textLength="84" lengthAdjust="spacingAndGlyphs">C (C(D)</text>
<text x="119.1" y="274.7" font-size="25" fill="#000" textLength="86" lengthAdjust="spacingAndGlyphs">1¼ Std.</text>
<text x="119.1" y="340.8" font-size="25" fill="#000" textLength="86" lengthAdjust="spacingAndGlyphs">1¼ Std.</text>
</g>
<!-- GRADING BOX -->
<g id="legend2">
<rect x="291" y="37.2" width="340.8" height="434" fill="#6a6a6d"/>
<rect x="410" y="62.2" width="220" height="407.1" fill="#fff"/>
<rect x="339" y="62.2" width="71" height="99" fill="#1b9ad6"/>
<rect x="339" y="161.2" width="71" height="118.5" fill="#e2001a"/>
<rect x="339" y="279.7" width="71" height="191.5" fill="#1b1a20"/>
<rect x="291" y="228.9" width="48" height="30.8" fill="#9b9b9d"/>
<text x="295" y="53.8" font-size="9.6" fill="#fff" textLength="112.3" lengthAdjust="spacingAndGlyphs" font-weight="normal" style="font-weight:bold">Schwierigkeitsbewertung</text>
<text x="425.3" y="54.2" font-size="9.6" fill="#fff" textLength="182" lengthAdjust="spacingAndGlyphs">Die erforderliche Klettersteigausrüstung:</text>
<g font-size="17.5" fill="#fff" text-anchor="middle">
<text x="315.5" y="80.8">A</text>
<text x="315.5" y="115.4">A/B</text>
<text x="315.5" y="150">B</text>
<text x="315.5" y="184.6">B/C</text>
<text x="315.5" y="219.2">C</text>
<text x="315.5" y="253.8">C/D</text>
<text x="315.5" y="288.4">D</text>
<text x="315.5" y="323">D/E</text>
<text x="315.5" y="357.6">E</text>
<text x="315.5" y="392.2">E/F</text>
<text x="315.5" y="426.8">F</text>
<text x="315.5" y="461.4">F/G</text>
</g>
<g font-size="13" fill="#fff" text-anchor="middle">
<text x="374.5" y="94.6">leicht</text>
<text x="374.5" y="154">mäßig</text>
<text x="373" y="175.5" textLength="61.5" lengthAdjust="spacingAndGlyphs">schwierig</text>
<text x="373" y="238.9" textLength="61.5" lengthAdjust="spacingAndGlyphs">schwierig</text>
<text x="376" y="308.9">sehr</text>
<text x="376" y="322.3">schwierig</text>
<text x="376" y="367.4">extrem</text>
<text x="376" y="380.8">schwierig</text>
</g>
</g>
<!-- texts under -->
<text x="294.9" y="511" font-size="18" fill="#c4122f" textLength="67" lengthAdjust="spacingAndGlyphs" style="font-weight:bold">Buchtipp:</text>
<text x="366" y="511" font-size="18" fill="#111" textLength="245" lengthAdjust="spacingAndGlyphs">Klettersteigführer Österreich</text>
<text x="294.9" y="535.8" font-size="18" fill="#111" textLength="323" lengthAdjust="spacingAndGlyphs">mit DVD-Rom. Infos: www.alpinverlag.at</text>
<text x="118.5" y="705.2" font-size="25.8" fill="#e2001a" textLength="277" lengthAdjust="spacingAndGlyphs">www.bergsteigen.com</text>
<circle cx="93.8" cy="698.3" r="9.8" fill="none" stroke="#e2001a" stroke-width="2.4"/>
<text x="93.6" y="703.2" font-size="13.5" fill="#e2001a" text-anchor="middle">C</text>
<!-- ICONS -->
<g fill="#fff">
<circle cx="92" cy="132.5" r="5.3"/>
<rect x="69" y="131" width="1.8" height="41"/>
<path d="M74,136 L86,143 L96,139.5 L100,144 L99,158 L94,162 L80,172.5 L75,170 L88,156 L83,152 L72,153.5 L71,149 L84,146 L73,140 Z"/>
<circle cx="96.5" cy="249.5" r="5.3"/>
<path d="M84,253 L94,256 L100,258 L101,270 L98,276 L95,276 L94,270 L91,272 L98,288 L93,289 L87,276 L81,285 L77,282 L84,270 L86,259 L82,258 Z"/>
<path d="M66,274 L87,291.5" stroke="#fff" stroke-width="1.8"/>
<path d="M75,266 L70,261 M67,258 L74,258 L67,265 Z" stroke="#fff" stroke-width="2"/>
<circle cx="90" cy="312.5" r="5.3"/>
<path d="M77,316 L92,318 L95,326 L99,331 L96,333 L91,328 L90,336 L84,351 L80,350 L83,338 L77,344 L69,339 L72,336 L78,338 L80,328 L78,322 Z"/>
<path d="M62.7,330.5 L84.7,352.4" stroke="#fff" stroke-width="1.8"/>
<path d="M92,339 L97,345 M100,348 L93,348 L100,341 Z" stroke="#fff" stroke-width="2"/>
</g>
<!-- LOGOS -->
<text x="55.6" y="404.5" font-size="33" fill="#d7081f" stroke="#d7081f" stroke-width="2" textLength="67.7" lengthAdjust="spacingAndGlyphs" style="font-weight:bold">berg</text>
<text x="123.3" y="404.5" font-size="33" fill="#1c1b20" stroke="#1c1b20" stroke-width="2" textLength="110.3" lengthAdjust="spacingAndGlyphs">steigen</text>
<text x="235.5" y="404.5" font-size="19" fill="#a5a5a7" stroke="#a5a5a7" stroke-width="1" textLength="38" lengthAdjust="spacingAndGlyphs">.com</text>
<polyline points="192.8,375.8 203,364.6 213.2,378.5 224.4,369.3 243.8,390.6" fill="none" stroke="#d7081f" stroke-width="4.4"/>
<polygon points="56.5,423.1 223.4,423.1 230.9,434.2 241,424.9 255.9,439.8 259.6,438.8 275.4,462 56.5,462" fill="#e2001a"/>
<polygon points="235.5,437.9 248.5,456.5 256.8,456.5 242,436" fill="#fff"/>
<text x="60.2" y="449" font-size="28" fill="#fff" stroke="#fff" stroke-width="0.8" textLength="161.4" lengthAdjust="spacingAndGlyphs">Alpinverlag</text>
<text x="113" y="457.4" font-size="8.5" fill="#fff" textLength="79" lengthAdjust="spacingAndGlyphs">www.alpinverlag.at</text>
<!-- SUN -->
<g id="sun">
<g fill="#f7d83a" stroke="#ee6a24" stroke-width="2.2" stroke-linejoin="round">
<ellipse cx="106.1" cy="605.1" rx="6.5" ry="3.2" transform="rotate(-114 106.1 605.1)"/>
<ellipse cx="129.4" cy="602.3" rx="6.5" ry="3.2" transform="rotate(-74 129.4 602.3)"/>
<ellipse cx="150.0" cy="611.9" rx="6.5" ry="3.2" transform="rotate(-38 150.0 611.9)"/>
<ellipse cx="163.7" cy="625.6" rx="6.5" ry="3.2" transform="rotate(-12 163.7 625.6)"/>
<ellipse cx="163.7" cy="639.4" rx="6.5" ry="3.2" transform="rotate(5 163.7 639.4)"/>
<ellipse cx="154.1" cy="653.1" rx="6.5" ry="3.2" transform="rotate(28 154.1 653.1)"/>
<ellipse cx="139.0" cy="662.7" rx="6.5" ry="3.2" transform="rotate(55 139.0 662.7)"/>
<ellipse cx="121.2" cy="665.4" rx="6.5" ry="3.2" transform="rotate(87 121.2 665.4)"/>
<ellipse cx="102.0" cy="662.7" rx="6.5" ry="3.2" transform="rotate(123 102.0 662.7)"/>
<ellipse cx="89.7" cy="655.8" rx="6.5" ry="3.2" transform="rotate(146 89.7 655.8)"/>
<ellipse cx="80.1" cy="643.5" rx="6.5" ry="3.2" transform="rotate(168 80.1 643.5)"/>
<ellipse cx="80.1" cy="629.8" rx="6.5" ry="3.2" transform="rotate(-172 80.1 629.8)"/>
<ellipse cx="89.7" cy="616.0" rx="6.5" ry="3.2" transform="rotate(-147 89.7 616.0)"/>
</g>
<ellipse cx="119.8" cy="635.2" rx="25" ry="19.5" fill="#f7e03c" stroke="#ee6a24" stroke-width="5.5"/>
<circle cx="109" cy="631" r="2" fill="#ee6a24"/><circle cx="128" cy="625.6" r="2" fill="#ee6a24"/>
<path d="M104,640 Q118,648 134,639" fill="none" stroke="#ee6a24" stroke-width="2.6" stroke-linecap="round"/>
</g>
<!-- CLIMBER ILLUSTRATION -->
<g id="climber">
<!-- rock wall -->
<path d="M518.4,92.3 L532.6,109 L546.8,118 L545.5,137.4 L540,145 L541,165 L543,190 L540.5,240 L540.5,278.7 L546,282 L543,300 L540,322 L540,347 L545,361 L538,380 L537,420 L525,420 L528,380 L530,300 L526,278 L532,240 L535,160 L530,145 Z" fill="#e4e4e6"/>
<polyline points="518.4,92.3 532.6,109 546.8,118 545.5,137.4 538,143" fill="none" stroke="#111" stroke-width="2.2"/>
<polyline points="536,153 544,160 545,190 543,230 540.5,240 540.5,278.7 546,282 543,300 540,322 540,347 545,361 541,367 544,376 538,392 537,420" fill="none" stroke="#111" stroke-width="2.2"/>
<!-- rope -->
<polyline points="430,67 431.3,240.6 433.2,247 428,252" fill="none" stroke="#8e8e90" stroke-width="3.2" stroke-linecap="round"/>
<polyline points="428.2,250 432.1,408.4" fill="none" stroke="#8e8e90" stroke-width="3.2" stroke-linecap="round"/>
<path d="M412,268 L419,252 L427,253 L424,262 L417,273 Z" fill="#9a9a9c" stroke="#333" stroke-width="1.6"/>
<!-- step irons -->
<path d="M446,336 L449,348 L481,346 L484,338" fill="none" stroke="#333" stroke-width="2.6" stroke-linejoin="round"/>
<path d="M489,360 L495,369 L529,364" fill="none" stroke="#333" stroke-width="2.6" stroke-linejoin="round"/>
<path d="M450,398 L455,409 L487,404 L482,394" fill="none" stroke="#333" stroke-width="2.6" stroke-linejoin="round"/>
<!-- pants -->
<path d="M485,230 L532,230 L534,262 L528,276 L536,300 L532,348 L513,352 L506,300 L500,288 L490,262 L470,270 L465,290 L476,330 L451,333 L448,290 L450,266 L468,248 Z" fill="#d8c79c" stroke="#222" stroke-width="2"/>
<!-- harness -->
<path d="M487,226 L533,229 L533,236 L487,233Z" fill="#d0021b" stroke="#222" stroke-width="1.2"/>
<path d="M480,237 L490,262 L497,258 L486,236Z" fill="#d0021b" stroke="#222" stroke-width="1.2"/>
<path d="M508,269 L532,266 L532,276 L510,279Z" fill="#d0021b" stroke="#222" stroke-width="1.2"/>
<!-- shoes -->
<path d="M446,333 L474,331 L476,340 L447,343Z" fill="#d0021b" stroke="#222" stroke-width="1.4"/>
<path d="M503,355 L530,350 L531,362 L502,365Z" fill="#d0021b" stroke="#222" stroke-width="1.4"/>
<!-- arm -->
<path d="M439.7,171 L468,176 L477,176.8 L481,191.6 L459,189 L439.7,177Z" fill="#f2b25c" stroke="#222" stroke-width="1.2"/>
<path d="M428,169.7 L441,170 L441,178.7 L429,178Z" fill="#e2001a" stroke="#222" stroke-width="1"/>
<!-- shirt -->
<path d="M475.8,176.8 L492.6,163.2 L522.3,159.4 L531.3,161.9 L536.5,178.7 L532.6,182.6 L531.3,227.7 L487.4,226.5 L488.7,189 L482.3,194.2Z" fill="#8cbf26" stroke="#222" stroke-width="2"/>
<!-- backpack -->
<path d="M500.3,165.8 L519.7,161.9 L523.5,176.1 L526.1,214.8 L515.8,222.6 L499,220 L499,182.6Z" fill="#e2001a" stroke="#222" stroke-width="1.8"/>
<polyline points="499,196 524,195" stroke="#222" stroke-width="1.4" fill="none"/>
<polyline points="500,183 524,183" stroke="#222" stroke-width="1.2" fill="none"/>
<!-- head -->
<path d="M500,144 L501,158 L510,159 L522,152 L520,140Z" fill="#f2b25c" stroke="#222" stroke-width="1.8"/>
<ellipse cx="515.5" cy="138" rx="14.5" ry="12" fill="#e2001a" stroke="#333" stroke-width="2"/>
<polyline points="502,142 520,147 528,145" fill="none" stroke="#333" stroke-width="2"/>
<!-- lanyards -->
<path d="M481,226 L437,206 L426,212 L440,222 L481,229" fill="none" stroke="#c8102e" stroke-width="2.6"/>
<path d="M481,230 L438,222 L426,232 L441,236 L481,233" fill="none" stroke="#c8102e" stroke-width="2.6"/>
<!-- arrows -->
<path d="M557,85 C520,83 470,100 448,150" fill="none" stroke="#222" stroke-width="4.4"/>
<path d="M557,85 C520,83 470,100 448,150" fill="none" stroke="#fff" stroke-width="2"/>
<path d="M441,167 L438,150 L452,154Z" fill="#eee" stroke="#222" stroke-width="1.5"/>
<path d="M557,143.9 L532,142.6" fill="none" stroke="#222" stroke-width="4.4"/><path d="M557,143.9 L534,142.6" stroke="#fff" stroke-width="2"/>
<path d="M527,142 L538,136 L537,149Z" fill="#eee" stroke="#222" stroke-width="1.4"/>
<path d="M557,185.8 L528,184" fill="none" stroke="#222" stroke-width="4.4"/><path d="M557,185.8 L530,184" stroke="#fff" stroke-width="2"/>
<path d="M523,183.9 L535,177 L536,190Z" fill="#eee" stroke="#222" stroke-width="1.4"/>
<path d="M557,230.3 C545,215 520,210 470,217" fill="none" stroke="#222" stroke-width="4.4"/><path d="M557,230.3 C545,215 520,210 470,217" fill="none" stroke="#fff" stroke-width="2"/>
<path d="M460,217.4 L474,210 L474,224Z" fill="#eee" stroke="#222" stroke-width="1.4"/>
<path d="M557.9,296 C530,296 508,285 503,262" fill="none" stroke="#222" stroke-width="4.4"/><path d="M557.9,296 C530,296 508,285 503,262" fill="none" stroke="#fff" stroke-width="2"/>
<path d="M502,255 L496,268 L509,266Z" fill="#eee" stroke="#222" stroke-width="1.4"/>
<path d="M557.9,361 L538,361" fill="none" stroke="#222" stroke-width="4.4"/><path d="M557.9,361 L540,361" stroke="#fff" stroke-width="2"/>
<path d="M532.7,361 L545,354 L545,368Z" fill="#eee" stroke="#222" stroke-width="1.4"/>
<!-- red labels -->
<g font-size="12.8" fill="#e2001a">
<text x="560.8" y="82.3" textLength="67" lengthAdjust="spacingAndGlyphs">Klettersteig-</text>
<text x="560.8" y="96.4" textLength="67" lengthAdjust="spacingAndGlyphs">handschuhe</text>
<text x="562.7" y="147" textLength="40" lengthAdjust="spacingAndGlyphs">Helm !</text>
<text x="561.8" y="174.2" textLength="53" lengthAdjust="spacingAndGlyphs">Rucksack</text>
<text x="561.8" y="188.7" textLength="60" lengthAdjust="spacingAndGlyphs">mit Notfall-</text>
<text x="561.8" y="202.2" textLength="63" lengthAdjust="spacingAndGlyphs">ausrüstung</text>
<text x="561" y="230.3" textLength="47" lengthAdjust="spacingAndGlyphs">Kletter-</text>
<text x="561" y="244" textLength="59" lengthAdjust="spacingAndGlyphs">steigset !</text>
<text x="562.7" y="292.6" textLength="47" lengthAdjust="spacingAndGlyphs">Kletter-</text>
<text x="562.7" y="304.8" textLength="33" lengthAdjust="spacingAndGlyphs">gurt !</text>
<text x="562" y="358" textLength="33" lengthAdjust="spacingAndGlyphs">festes</text>
<text x="562" y="372.6" textLength="61" lengthAdjust="spacingAndGlyphs">Schuhwerk</text>
</g>
<text x="413.7" y="438.8" font-size="11.5" fill="#111" textLength="211" lengthAdjust="spacingAndGlyphs">Bei Wettersturz u. Gewitter - weg vom Eisen,</text>
<text x="413.7" y="452.3" font-size="11.5" fill="#111" textLength="214" lengthAdjust="spacingAndGlyphs">den Klettersteig schnell, gesichert verlassen!</text>
<text x="476.6" y="466.8" font-size="5.5" fill="#111" textLength="152" lengthAdjust="spacingAndGlyphs">Grafik: Alpines Lehrbuch <tspan fill="#e2001a">Sicher Klettersteiggehen</tspan> - Alpinverlag</text>
</g>
</svg>
</body></html>
